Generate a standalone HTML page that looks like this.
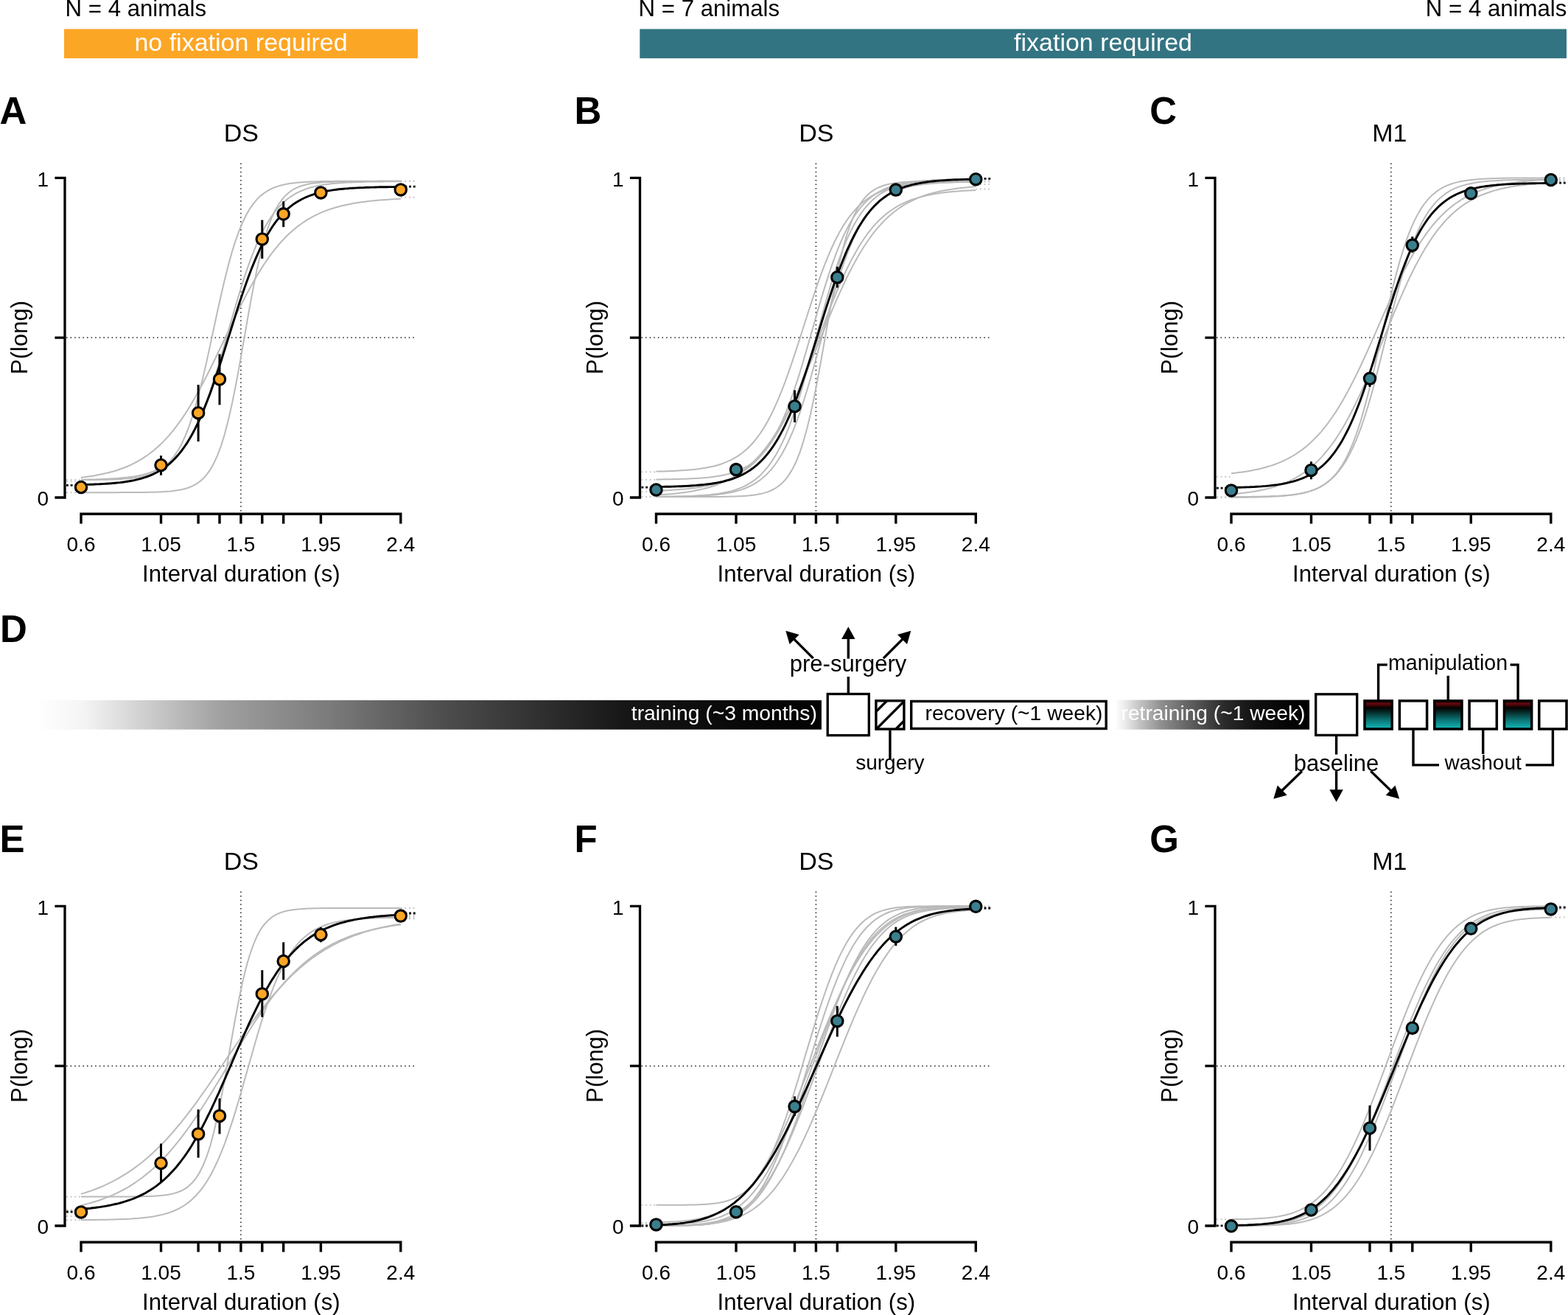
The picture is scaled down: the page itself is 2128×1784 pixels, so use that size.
<!DOCTYPE html>
<html><head><meta charset="utf-8"><title>Figure</title>
<style>html,body{margin:0;padding:0;background:#fff;}svg{display:block;}</style></head>
<body><svg width="2128" height="1784" viewBox="0 0 2128 1784" font-family="'Liberation Sans', Arial, Helvetica, sans-serif">
<rect width="2128" height="1784" fill="#fff"/>
<text x="88.6" y="22" font-size="31.2">N = 4 animals</text>
<rect x="87" y="39.4" width="480" height="39.7" fill="#FCA626"/>
<text x="327" y="68.9" font-size="34" text-anchor="middle" fill="#fff">no fixation required</text>
<text x="866.6" y="22" font-size="31.2">N = 7 animals</text>
<rect x="868.3" y="39.4" width="1257.7" height="39.7" fill="#337482"/>
<text x="1497" y="68.7" font-size="34" text-anchor="middle" fill="#fff">fixation required</text>
<text x="2126.4" y="22" font-size="31.2" text-anchor="end">N = 4 animals</text>
<path d="M326.9 221.5V693.5M90 458.1H564" stroke="#1a1a1a" stroke-width="1.5" stroke-dasharray="1.5 4.1" fill="none"/>
<path d="M74.4 241.3H88V675H74.4M74.4 458.1H88" stroke="#000" stroke-width="3.3" fill="none" stroke-linejoin="miter"/>
<path d="M110 710.6V697.3H543.8V710.6M218.5 697.3V710.6M269.1 697.3V710.6M298 697.3V710.6M355.8 697.3V710.6M384.7 697.3V710.6M435.4 697.3V710.6M326.9 697.3V710.6" stroke="#000" stroke-width="3.4" fill="none" stroke-linejoin="miter"/>
<text x="110" y="747.8" font-size="28" text-anchor="middle">0.6</text>
<text x="218.5" y="747.8" font-size="28" text-anchor="middle">1.05</text>
<text x="326.9" y="747.8" font-size="28" text-anchor="middle">1.5</text>
<text x="435.4" y="747.8" font-size="28" text-anchor="middle">1.95</text>
<text x="543.8" y="747.8" font-size="28" text-anchor="middle">2.4</text>
<text x="66" y="685.5" font-size="28" text-anchor="end">0</text>
<text x="66" y="252.6" font-size="28" text-anchor="end">1</text>
<text x="327.4" y="789.3" font-size="31.2" text-anchor="middle">Interval duration (s)</text>
<text transform="translate(37.3 458) rotate(-90)" font-size="31" text-anchor="middle">P(long)</text>
<text x="327.3" y="191.8" font-size="34" text-anchor="middle">DS</text>
<text x="-0.6" y="167.7" font-size="51" font-weight="bold">A</text>
<path d="M1107.4 221.5V693.5M870.5 458.1H1344.5" stroke="#1a1a1a" stroke-width="1.5" stroke-dasharray="1.5 4.1" fill="none"/>
<path d="M854.9 241.3H868.5V675H854.9M854.9 458.1H868.5" stroke="#000" stroke-width="3.3" fill="none" stroke-linejoin="miter"/>
<path d="M890.5 710.6V697.3H1324.3V710.6M999 697.3V710.6M1078.5 697.3V710.6M1136.3 697.3V710.6M1215.8 697.3V710.6M1107.4 697.3V710.6" stroke="#000" stroke-width="3.4" fill="none" stroke-linejoin="miter"/>
<text x="890.5" y="747.8" font-size="28" text-anchor="middle">0.6</text>
<text x="999" y="747.8" font-size="28" text-anchor="middle">1.05</text>
<text x="1107.4" y="747.8" font-size="28" text-anchor="middle">1.5</text>
<text x="1215.8" y="747.8" font-size="28" text-anchor="middle">1.95</text>
<text x="1324.3" y="747.8" font-size="28" text-anchor="middle">2.4</text>
<text x="846.5" y="685.5" font-size="28" text-anchor="end">0</text>
<text x="846.5" y="252.6" font-size="28" text-anchor="end">1</text>
<text x="1107.9" y="789.3" font-size="31.2" text-anchor="middle">Interval duration (s)</text>
<text transform="translate(817.8 458) rotate(-90)" font-size="31" text-anchor="middle">P(long)</text>
<text x="1107.8" y="191.8" font-size="34" text-anchor="middle">DS</text>
<text x="779.5" y="167.7" font-size="51" font-weight="bold">B</text>
<path d="M1887.9 221.5V693.5M1651 458.1H2125" stroke="#1a1a1a" stroke-width="1.5" stroke-dasharray="1.5 4.1" fill="none"/>
<path d="M1635.4 241.3H1649V675H1635.4M1635.4 458.1H1649" stroke="#000" stroke-width="3.3" fill="none" stroke-linejoin="miter"/>
<path d="M1671 710.6V697.3H2104.8V710.6M1779.5 697.3V710.6M1859 697.3V710.6M1916.8 697.3V710.6M1996.3 697.3V710.6M1887.9 697.3V710.6" stroke="#000" stroke-width="3.4" fill="none" stroke-linejoin="miter"/>
<text x="1671" y="747.8" font-size="28" text-anchor="middle">0.6</text>
<text x="1779.5" y="747.8" font-size="28" text-anchor="middle">1.05</text>
<text x="1887.9" y="747.8" font-size="28" text-anchor="middle">1.5</text>
<text x="1996.3" y="747.8" font-size="28" text-anchor="middle">1.95</text>
<text x="2104.8" y="747.8" font-size="28" text-anchor="middle">2.4</text>
<text x="1627" y="685.5" font-size="28" text-anchor="end">0</text>
<text x="1627" y="252.6" font-size="28" text-anchor="end">1</text>
<text x="1888.4" y="789.3" font-size="31.2" text-anchor="middle">Interval duration (s)</text>
<text transform="translate(1598.3 458) rotate(-90)" font-size="31" text-anchor="middle">P(long)</text>
<text x="1885.9" y="191.8" font-size="34" text-anchor="middle">M1</text>
<text x="1560.3" y="167.7" font-size="51" font-weight="bold">C</text>
<path d="M326.9 1209.5V1681.5M90 1446.2H564" stroke="#1a1a1a" stroke-width="1.5" stroke-dasharray="1.5 4.1" fill="none"/>
<path d="M74.4 1229.3H88V1663H74.4M74.4 1446.2H88" stroke="#000" stroke-width="3.3" fill="none" stroke-linejoin="miter"/>
<path d="M110 1698.6V1685.3H543.8V1698.6M218.5 1685.3V1698.6M269.1 1685.3V1698.6M298 1685.3V1698.6M355.8 1685.3V1698.6M384.7 1685.3V1698.6M435.4 1685.3V1698.6M326.9 1685.3V1698.6" stroke="#000" stroke-width="3.4" fill="none" stroke-linejoin="miter"/>
<text x="110" y="1735.8" font-size="28" text-anchor="middle">0.6</text>
<text x="218.5" y="1735.8" font-size="28" text-anchor="middle">1.05</text>
<text x="326.9" y="1735.8" font-size="28" text-anchor="middle">1.5</text>
<text x="435.4" y="1735.8" font-size="28" text-anchor="middle">1.95</text>
<text x="543.8" y="1735.8" font-size="28" text-anchor="middle">2.4</text>
<text x="66" y="1673.5" font-size="28" text-anchor="end">0</text>
<text x="66" y="1240.6" font-size="28" text-anchor="end">1</text>
<text x="327.4" y="1777.3" font-size="31.2" text-anchor="middle">Interval duration (s)</text>
<text transform="translate(37.3 1446) rotate(-90)" font-size="31" text-anchor="middle">P(long)</text>
<text x="327.3" y="1179.8" font-size="34" text-anchor="middle">DS</text>
<text x="-0.6" y="1155.7" font-size="51" font-weight="bold">E</text>
<path d="M1107.4 1209.5V1681.5M870.5 1446.2H1344.5" stroke="#1a1a1a" stroke-width="1.5" stroke-dasharray="1.5 4.1" fill="none"/>
<path d="M854.9 1229.3H868.5V1663H854.9M854.9 1446.2H868.5" stroke="#000" stroke-width="3.3" fill="none" stroke-linejoin="miter"/>
<path d="M890.5 1698.6V1685.3H1324.3V1698.6M999 1685.3V1698.6M1078.5 1685.3V1698.6M1136.3 1685.3V1698.6M1215.8 1685.3V1698.6M1107.4 1685.3V1698.6" stroke="#000" stroke-width="3.4" fill="none" stroke-linejoin="miter"/>
<text x="890.5" y="1735.8" font-size="28" text-anchor="middle">0.6</text>
<text x="999" y="1735.8" font-size="28" text-anchor="middle">1.05</text>
<text x="1107.4" y="1735.8" font-size="28" text-anchor="middle">1.5</text>
<text x="1215.8" y="1735.8" font-size="28" text-anchor="middle">1.95</text>
<text x="1324.3" y="1735.8" font-size="28" text-anchor="middle">2.4</text>
<text x="846.5" y="1673.5" font-size="28" text-anchor="end">0</text>
<text x="846.5" y="1240.6" font-size="28" text-anchor="end">1</text>
<text x="1107.9" y="1777.3" font-size="31.2" text-anchor="middle">Interval duration (s)</text>
<text transform="translate(817.8 1446) rotate(-90)" font-size="31" text-anchor="middle">P(long)</text>
<text x="1107.8" y="1179.8" font-size="34" text-anchor="middle">DS</text>
<text x="779.5" y="1155.7" font-size="51" font-weight="bold">F</text>
<path d="M1887.9 1209.5V1681.5M1651 1446.2H2125" stroke="#1a1a1a" stroke-width="1.5" stroke-dasharray="1.5 4.1" fill="none"/>
<path d="M1635.4 1229.3H1649V1663H1635.4M1635.4 1446.2H1649" stroke="#000" stroke-width="3.3" fill="none" stroke-linejoin="miter"/>
<path d="M1671 1698.6V1685.3H2104.8V1698.6M1779.5 1685.3V1698.6M1859 1685.3V1698.6M1916.8 1685.3V1698.6M1996.3 1685.3V1698.6M1887.9 1685.3V1698.6" stroke="#000" stroke-width="3.4" fill="none" stroke-linejoin="miter"/>
<text x="1671" y="1735.8" font-size="28" text-anchor="middle">0.6</text>
<text x="1779.5" y="1735.8" font-size="28" text-anchor="middle">1.05</text>
<text x="1887.9" y="1735.8" font-size="28" text-anchor="middle">1.5</text>
<text x="1996.3" y="1735.8" font-size="28" text-anchor="middle">1.95</text>
<text x="2104.8" y="1735.8" font-size="28" text-anchor="middle">2.4</text>
<text x="1627" y="1673.5" font-size="28" text-anchor="end">0</text>
<text x="1627" y="1240.6" font-size="28" text-anchor="end">1</text>
<text x="1888.4" y="1777.3" font-size="31.2" text-anchor="middle">Interval duration (s)</text>
<text transform="translate(1598.3 1446) rotate(-90)" font-size="31" text-anchor="middle">P(long)</text>
<text x="1885.9" y="1179.8" font-size="34" text-anchor="middle">M1</text>
<text x="1560.3" y="1155.7" font-size="51" font-weight="bold">G</text>
<text x="0" y="870.8" font-size="51" font-weight="bold">D</text>
<defs><linearGradient id="gtrain" gradientUnits="userSpaceOnUse" x1="50" y1="0" x2="1115" y2="0"><stop offset="0" stop-color="#fff"/><stop offset="0.06" stop-color="#f4f4f4"/><stop offset="0.235" stop-color="#a0a0a0"/><stop offset="0.376" stop-color="#7a7a7a"/><stop offset="0.516" stop-color="#4e4e4e"/><stop offset="0.657" stop-color="#2c2c2c"/><stop offset="0.751" stop-color="#161616"/><stop offset="0.9" stop-color="#080808"/><stop offset="1" stop-color="#030303"/></linearGradient><linearGradient id="gretrain" gradientUnits="userSpaceOnUse" x1="1513" y1="0" x2="1777" y2="0"><stop offset="0" stop-color="#fff"/><stop offset="0.05" stop-color="#ececec"/><stop offset="0.13" stop-color="#c2c2c2"/><stop offset="0.24" stop-color="#8e8e8e"/><stop offset="0.405" stop-color="#5a5a5a"/><stop offset="0.565" stop-color="#2a2a2a"/><stop offset="0.73" stop-color="#101010"/><stop offset="0.89" stop-color="#050505"/><stop offset="1" stop-color="#020202"/></linearGradient><linearGradient id="gmanip" x1="0" y1="0" x2="0" y2="1"><stop offset="0" stop-color="#2a0204"/><stop offset="0.1" stop-color="#640a10"/><stop offset="0.17" stop-color="#3c0407"/><stop offset="0.24" stop-color="#060202"/><stop offset="0.32" stop-color="#041412"/><stop offset="0.62" stop-color="#0a6666"/><stop offset="1" stop-color="#12bcbc"/></linearGradient><clipPath id="hclip"><rect x="1188.9" y="950.7" width="38" height="38.4"/></clipPath></defs>
<rect x="50" y="950" width="1064.9" height="39.7" fill="url(#gtrain)"/>
<text x="856.8" y="977" font-size="28.25" fill="#fff">training (~3 months)</text>
<rect x="1123.2" y="941.5" width="56.1" height="56.1" fill="#fff" stroke="#000" stroke-width="3.3"/>
<path d="M1151.3 918L1151.3 941.5" stroke="#000" stroke-width="3.4" fill="none"/>
<text x="1151" y="911" font-size="31" text-anchor="middle">pre-surgery</text>
<path d="M1151.3 893.6L1151.3 865" stroke="#000" stroke-width="3.4" fill="none"/>
<path d="M1151.3 850.3L1160.5 867L1142.1 867Z" fill="#000"/>
<path d="M1103.7 893.1L1076.7 866.1" stroke="#000" stroke-width="3.4" fill="none"/>
<path d="M1066.3 855.7L1084.6 861L1071.6 874Z" fill="#000"/>
<path d="M1198.9 893.1L1225.9 866.1" stroke="#000" stroke-width="3.4" fill="none"/>
<path d="M1236.3 855.7L1231 874L1218 861Z" fill="#000"/>
<g clip-path="url(#hclip)">
<path d="M1154.4 1000L1254.4 900" stroke="#000" stroke-width="3.4"/>
<path d="M1178.4 1000L1278.4 900" stroke="#000" stroke-width="3.4"/>
<path d="M1204.9 1000L1304.9 900" stroke="#000" stroke-width="3.4"/>
</g>
<rect x="1188.9" y="950.7" width="38" height="38.4" fill="none" stroke="#000" stroke-width="3.4"/>
<path d="M1207.9 990.8L1207.9 1030.9" stroke="#000" stroke-width="3.4" fill="none"/>
<text x="1207.9" y="1044.1" font-size="28" text-anchor="middle">surgery</text>
<rect x="1236.7" y="951.4" width="264.5" height="37.1" fill="#fff" stroke="#000" stroke-width="3.4"/>
<text x="1255.5" y="976.7" font-size="28.25">recovery (~1 week)</text>
<rect x="1513" y="949.6" width="264.1" height="40.1" fill="url(#gretrain)"/>
<text x="1521.5" y="976.5" font-size="28.2" fill="#fff">retraining (~1 week)</text>
<rect x="1785.7" y="941.8" width="56" height="55.6" fill="#fff" stroke="#000" stroke-width="3.3"/>
<path d="M1813.6 999L1813.6 1023.6" stroke="#000" stroke-width="3.4" fill="none"/>
<text x="1813.6" y="1045.9" font-size="31" text-anchor="middle">baseline</text>
<path d="M1813.6 1046.1L1813.6 1073.3" stroke="#000" stroke-width="3.4" fill="none"/>
<path d="M1813.6 1088L1804.4 1071.3L1822.8 1071.3Z" fill="#000"/>
<path d="M1767 1046.1L1738.8 1073.5" stroke="#000" stroke-width="3.4" fill="none"/>
<path d="M1728.3 1083.8L1733.8 1065.6L1746.7 1078.7Z" fill="#000"/>
<path d="M1860.3 1046.1L1888.6 1073.6" stroke="#000" stroke-width="3.4" fill="none"/>
<path d="M1899.1 1083.8L1880.7 1078.8L1893.5 1065.6Z" fill="#000"/>
<rect x="1852" y="950.8" width="37.2" height="38.2" fill="url(#gmanip)" stroke="#000" stroke-width="3.5"/>
<rect x="1899.4" y="950.8" width="37.2" height="38.2" fill="#fff" stroke="#000" stroke-width="3.5"/>
<rect x="1946.8" y="950.8" width="37.2" height="38.2" fill="url(#gmanip)" stroke="#000" stroke-width="3.5"/>
<rect x="1994.1" y="950.8" width="37.2" height="38.2" fill="#fff" stroke="#000" stroke-width="3.5"/>
<rect x="2041.5" y="950.8" width="37.2" height="38.2" fill="url(#gmanip)" stroke="#000" stroke-width="3.5"/>
<rect x="2088.8" y="950.8" width="37.2" height="38.2" fill="#fff" stroke="#000" stroke-width="3.5"/>
<path d="M1870.6 950V901.9H1882.8M2049.6 901.9H2060.1V950M1965.3 916.8V950" stroke="#000" stroke-width="3.4" fill="none"/>
<text x="1965" y="909.3" font-size="28.6" text-anchor="middle">manipulation</text>
<path d="M1918 989V1037.9H1953M2070.6 1037.9H2107.4V989M2012.7 989V1023" stroke="#000" stroke-width="3.4" fill="none"/>
<text x="2012.6" y="1043.9" font-size="28" text-anchor="middle">washout</text>
<path d="M110 668.2L114.9 668.2L119.7 668.2L124.6 668.2L129.5 668.2L134.4 668.2L139.2 668.2L144.1 668.2L149 668.2L153.9 668.2L158.7 668.2L163.6 668.1L168.5 668.1L173.4 668.1L178.2 668.1L183.1 668.1L188 668L192.9 668L197.7 667.9L202.6 667.8L207.5 667.7L212.4 667.6L217.2 667.4L222.1 667.1L227 666.8L231.9 666.4L236.7 665.8L241.6 665.1L246.5 664.2L251.4 663L256.2 661.5L261.1 659.4L266 656.8L270.8 653.5L275.7 649.2L280.6 643.8L285.5 636.9L290.3 628.3L295.2 617.6L300.1 604.5L305 588.7L309.8 570.1L314.7 548.6L319.6 524.6L324.5 498.4L329.3 470.8L334.2 442.8L339.1 415.3L344 389.1L348.8 365.1L353.7 343.7L358.6 325.2L363.5 309.5L368.3 296.4L373.2 285.8L378.1 277.2L383 270.3L387.8 264.9L392.7 260.7L397.6 257.3L402.4 254.8L407.3 252.8L412.2 251.2L417.1 250L421.9 249.1L426.8 248.4L431.7 247.9L436.6 247.4L441.4 247.1L446.3 246.9L451.2 246.7L456.1 246.5L460.9 246.4L465.8 246.3L470.7 246.3L475.6 246.2L480.4 246.2L485.3 246.2L490.2 246.1L495.1 246.1L499.9 246.1L504.8 246.1L509.7 246.1L514.6 246.1L519.4 246.1L524.3 246.1L529.2 246.1L534.1 246.1L538.9 246.1L543.8 246.1" stroke="#bababa" stroke-width="2" fill="none"/>
<path d="M110 651L114.9 651L119.7 651L124.6 650.9L129.5 650.9L134.4 650.8L139.2 650.8L144.1 650.7L149 650.5L153.9 650.4L158.7 650.2L163.6 649.9L168.5 649.6L173.4 649.2L178.2 648.8L183.1 648.2L188 647.4L192.9 646.5L197.7 645.3L202.6 643.9L207.5 642.1L212.4 639.9L217.2 637.2L222.1 633.8L227 629.7L231.9 624.6L236.7 618.5L241.6 611.1L246.5 602.2L251.4 591.7L256.2 579.3L261.1 565.1L266 548.9L270.8 530.7L275.7 510.9L280.6 489.6L285.5 467.4L290.3 444.7L295.2 422L300.1 400L305 379.2L309.8 359.9L314.7 342.4L319.6 326.8L324.5 313.2L329.3 301.5L334.2 291.5L339.1 283.1L344 276.2L348.8 270.4L353.7 265.6L358.6 261.8L363.5 258.6L368.3 256.1L373.2 254L378.1 252.4L383 251L387.8 250L392.7 249.1L397.6 248.4L402.4 247.8L407.3 247.4L412.2 247.1L417.1 246.8L421.9 246.5L426.8 246.4L431.7 246.2L436.6 246.1L441.4 246L446.3 245.9L451.2 245.9L456.1 245.8L460.9 245.8L465.8 245.8L470.7 245.7L475.6 245.7L480.4 245.7L485.3 245.7L490.2 245.7L495.1 245.7L499.9 245.7L504.8 245.7L509.7 245.7L514.6 245.6L519.4 245.6L524.3 245.6L529.2 245.6L534.1 245.6L538.9 245.6L543.8 245.6" stroke="#bababa" stroke-width="2" fill="none"/>
<path d="M110 647.9L114.9 647.3L119.7 646.6L124.6 645.9L129.5 645.1L134.4 644.1L139.2 643.1L144.1 642L149 640.8L153.9 639.5L158.7 638L163.6 636.3L168.5 634.5L173.4 632.5L178.2 630.3L183.1 627.9L188 625.2L192.9 622.3L197.7 619.2L202.6 615.7L207.5 611.9L212.4 607.8L217.2 603.4L222.1 598.6L227 593.4L231.9 587.8L236.7 581.8L241.6 575.4L246.5 568.6L251.4 561.3L256.2 553.7L261.1 545.6L266 537.1L270.8 528.3L275.7 519.2L280.6 509.7L285.5 500L290.3 490.1L295.2 480L300.1 469.8L305 459.5L309.8 449.3L314.7 439.1L319.6 429L324.5 419.1L329.3 409.5L334.2 400.1L339.1 391L344 382.2L348.8 373.9L353.7 365.9L358.6 358.3L363.5 351.1L368.3 344.4L373.2 338.1L378.1 332.1L383 326.6L387.8 321.5L392.7 316.8L397.6 312.4L402.4 308.4L407.3 304.7L412.2 301.3L417.1 298.1L421.9 295.3L426.8 292.7L431.7 290.3L436.6 288.2L441.4 286.2L446.3 284.4L451.2 282.8L456.1 281.3L460.9 280L465.8 278.8L470.7 277.7L475.6 276.7L480.4 275.8L485.3 275L490.2 274.3L495.1 273.7L499.9 273.1L504.8 272.6L509.7 272.1L514.6 271.6L519.4 271.3L524.3 270.9L529.2 270.6L534.1 270.3L538.9 270L543.8 269.8" stroke="#bababa" stroke-width="2" fill="none"/>
<path d="M110 650.7L114.9 650.7L119.7 650.6L124.6 650.5L129.5 650.4L134.4 650.2L139.2 650L144.1 649.8L149 649.6L153.9 649.3L158.7 649L163.6 648.6L168.5 648.1L173.4 647.6L178.2 646.9L183.1 646.2L188 645.3L192.9 644.2L197.7 643L202.6 641.5L207.5 639.8L212.4 637.8L217.2 635.4L222.1 632.7L227 629.4L231.9 625.7L236.7 621.4L241.6 616.4L246.5 610.7L251.4 604.1L256.2 596.6L261.1 588.1L266 578.7L270.8 568.1L275.7 556.4L280.6 543.6L285.5 529.8L290.3 515L295.2 499.4L300.1 483.1L305 466.3L309.8 449.3L314.7 432.2L319.6 415.4L324.5 399.1L329.3 383.4L334.2 368.5L339.1 354.6L344 341.8L348.8 330L353.7 319.3L358.6 309.8L363.5 301.2L368.3 293.7L373.2 287L378.1 281.2L383 276.2L387.8 271.8L392.7 268L397.6 264.8L402.4 262L407.3 259.6L412.2 257.6L417.1 255.8L421.9 254.3L426.8 253.1L431.7 252L436.6 251.1L441.4 250.3L446.3 249.7L451.2 249.1L456.1 248.7L460.9 248.3L465.8 247.9L470.7 247.6L475.6 247.4L480.4 247.2L485.3 247L490.2 246.9L495.1 246.7L499.9 246.6L504.8 246.6L509.7 246.5L514.6 246.4L519.4 246.4L524.3 246.3L529.2 246.3L534.1 246.2L538.9 246.2L543.8 246.2" stroke="#bababa" stroke-width="2" fill="none"/>
<path d="M90 668.2H110M543.8 246.1H564M90 651.1H110M543.8 245.6H564M90 653.3H110M543.8 267.8H564M90 651.1H110M543.8 246.1H564" stroke="#c8c8c8" stroke-width="2" stroke-dasharray="2 3.6" fill="none"/>
<path d="M90 658.3H110M543.8 253.2H564" stroke="#000" stroke-width="2.8" stroke-dasharray="2.8 2.9" fill="none"/>
<path d="M110 657.6L113.1 657.5L116.2 657.5L119.4 657.4L122.5 657.3L125.6 657.2L128.7 657L131.8 656.9L135 656.8L138.1 656.6L141.2 656.4L144.3 656.2L147.5 656L150.6 655.8L153.7 655.5L156.8 655.2L159.9 654.9L163.1 654.6L166.2 654.2L169.3 653.8L172.4 653.3L175.5 652.8L178.7 652.2L181.8 651.6L184.9 650.9L188 650.2L191.1 649.3L194.3 648.4L197.4 647.4L200.5 646.3L203.6 645.1L206.7 643.8L209.9 642.3L213 640.8L216.1 639L219.2 637.1L222.4 635.1L225.5 632.8L228.6 630.3L231.7 627.6L234.8 624.7L238 621.5L241.1 618.1L244.2 614.4L247.3 610.4L250.4 606L253.6 601.4L256.7 596.3L259.8 591L262.9 585.3L266 579.1L269.2 572.7L272.3 565.8L275.4 558.6L278.5 550.9L281.6 543L284.8 534.7L287.9 526L291 517.1L294.1 507.8L297.3 498.4L300.4 488.7L303.5 478.9L306.6 469L309.7 459L312.9 449L316 439L319.1 429.1L322.2 419.4L325.3 409.8L328.5 400.4L331.6 391.3L334.7 382.4L337.8 373.9L340.9 365.7L344.1 357.9L347.2 350.4L350.3 343.3L353.4 336.5L356.5 330.2L359.7 324.2L362.8 318.6L365.9 313.4L369 308.5L372.2 303.9L375.3 299.7L378.4 295.8L381.5 292.2L384.6 288.8L387.8 285.8L390.9 282.9L394 280.3L397.1 277.9L400.2 275.7L403.4 273.7L406.5 271.9L409.6 270.2L412.7 268.7L415.8 267.3L419 266L422.1 264.8L425.2 263.8L428.3 262.8L431.4 261.9L434.6 261.1L437.7 260.4L440.8 259.7L443.9 259.1L447.1 258.6L450.2 258.1L453.3 257.6L456.4 257.2L459.5 256.8L462.7 256.5L465.8 256.2L468.9 255.9L472 255.7L475.1 255.4L478.3 255.2L481.4 255.1L484.5 254.9L487.6 254.7L490.7 254.6L493.9 254.5L497 254.3L500.1 254.2L503.2 254.1L506.3 254.1L509.5 254L512.6 253.9L515.7 253.8L518.8 253.8L522 253.7L525.1 253.7L528.2 253.6L531.3 253.6L534.4 253.6L537.6 253.5L540.7 253.5L543.8 253.5" stroke="#000" stroke-width="2.9" fill="none"/>
<path d="M218.5 618.1V644.7" stroke="#000" stroke-width="3" fill="none"/>
<path d="M269.1 522V599" stroke="#000" stroke-width="3" fill="none"/>
<path d="M298 480.4V549.3" stroke="#000" stroke-width="3" fill="none"/>
<path d="M355.8 298.5V350.9" stroke="#000" stroke-width="3" fill="none"/>
<path d="M384.7 273.2V308" stroke="#000" stroke-width="3" fill="none"/>
<circle cx="110" cy="661" r="7.7" fill="#FCA626" stroke="#000" stroke-width="3.1"/>
<circle cx="218.5" cy="631" r="7.7" fill="#FCA626" stroke="#000" stroke-width="3.1"/>
<circle cx="269.1" cy="560.2" r="7.7" fill="#FCA626" stroke="#000" stroke-width="3.1"/>
<circle cx="298" cy="514.5" r="7.7" fill="#FCA626" stroke="#000" stroke-width="3.1"/>
<circle cx="355.8" cy="324.4" r="7.7" fill="#FCA626" stroke="#000" stroke-width="3.1"/>
<circle cx="384.7" cy="290.3" r="7.7" fill="#FCA626" stroke="#000" stroke-width="3.1"/>
<circle cx="435.4" cy="261.4" r="7.7" fill="#FCA626" stroke="#000" stroke-width="3.1"/>
<circle cx="543.8" cy="257.4" r="7.7" fill="#FCA626" stroke="#000" stroke-width="3.1"/>
<path d="M890.5 639.6L895.4 639.5L900.2 639.4L905.1 639.2L910 639.1L914.9 638.9L919.7 638.6L924.6 638.3L929.5 638L934.4 637.6L939.2 637.2L944.1 636.7L949 636.1L953.9 635.3L958.7 634.5L963.6 633.6L968.5 632.5L973.4 631.2L978.2 629.7L983.1 627.9L988 625.9L992.9 623.6L997.7 620.9L1002.6 617.9L1007.5 614.3L1012.4 610.3L1017.2 605.7L1022.1 600.5L1027 594.5L1031.9 587.8L1036.7 580.4L1041.6 572L1046.5 562.8L1051.3 552.6L1056.2 541.6L1061.1 529.6L1066 516.9L1070.8 503.3L1075.7 489.1L1080.6 474.4L1085.5 459.3L1090.3 444L1095.2 428.7L1100.1 413.6L1105 398.8L1109.8 384.6L1114.7 371L1119.6 358.1L1124.5 346.1L1129.3 335L1134.2 324.8L1139.1 315.5L1144 307.1L1148.8 299.5L1153.7 292.8L1158.6 286.8L1163.5 281.5L1168.3 276.8L1173.2 272.8L1178.1 269.2L1182.9 266.1L1187.8 263.4L1192.7 261L1197.6 259L1202.4 257.3L1207.3 255.8L1212.2 254.4L1217.1 253.3L1221.9 252.4L1226.8 251.5L1231.7 250.8L1236.6 250.2L1241.4 249.7L1246.3 249.2L1251.2 248.8L1256.1 248.5L1260.9 248.2L1265.8 248L1270.7 247.8L1275.6 247.6L1280.4 247.4L1285.3 247.3L1290.2 247.2L1295.1 247.1L1299.9 247L1304.8 246.9L1309.7 246.9L1314.6 246.8L1319.4 246.8L1324.3 246.7" stroke="#bababa" stroke-width="2" fill="none"/>
<path d="M890.5 650.4L895.4 650.4L900.2 650.3L905.1 650.3L910 650.2L914.9 650.1L919.7 650L924.6 649.8L929.5 649.7L934.4 649.5L939.2 649.3L944.1 649L949 648.7L953.9 648.3L958.7 647.9L963.6 647.4L968.5 646.8L973.4 646.1L978.2 645.3L983.1 644.3L988 643.1L992.9 641.7L997.7 640.1L1002.6 638.3L1007.5 636L1012.4 633.5L1017.2 630.5L1022.1 627L1027 622.9L1031.9 618.2L1036.7 612.8L1041.6 606.6L1046.5 599.5L1051.3 591.5L1056.2 582.4L1061.1 572.3L1066 561L1070.8 548.7L1075.7 535.3L1080.6 520.8L1085.5 505.5L1090.3 489.4L1095.2 472.7L1100.1 455.6L1105 438.5L1109.8 421.4L1114.7 404.7L1119.6 388.6L1124.5 373.2L1129.3 358.8L1134.2 345.3L1139.1 333L1144 321.7L1148.8 311.6L1153.7 302.5L1158.6 294.4L1163.5 287.3L1168.3 281.1L1173.2 275.7L1178.1 270.9L1182.9 266.9L1187.8 263.4L1192.7 260.3L1197.6 257.8L1202.4 255.5L1207.3 253.7L1212.2 252L1217.1 250.7L1221.9 249.5L1226.8 248.5L1231.7 247.7L1236.6 247L1241.4 246.4L1246.3 245.8L1251.2 245.4L1256.1 245L1260.9 244.7L1265.8 244.5L1270.7 244.2L1275.6 244.1L1280.4 243.9L1285.3 243.8L1290.2 243.7L1295.1 243.6L1299.9 243.5L1304.8 243.4L1309.7 243.4L1314.6 243.3L1319.4 243.3L1324.3 243.2" stroke="#bababa" stroke-width="2" fill="none"/>
<path d="M890.5 665.8L895.4 665.6L900.2 665.4L905.1 665.2L910 664.9L914.9 664.6L919.7 664.2L924.6 663.8L929.5 663.4L934.4 662.9L939.2 662.3L944.1 661.7L949 660.9L953.9 660.1L958.7 659.2L963.6 658.1L968.5 656.9L973.4 655.6L978.2 654.1L983.1 652.4L988 650.5L992.9 648.3L997.7 645.9L1002.6 643.2L1007.5 640.2L1012.4 636.8L1017.2 633.1L1022.1 628.9L1027 624.3L1031.9 619.2L1036.7 613.5L1041.6 607.4L1046.5 600.6L1051.3 593.3L1056.2 585.3L1061.1 576.7L1066 567.4L1070.8 557.6L1075.7 547.1L1080.6 536.1L1085.5 524.6L1090.3 512.6L1095.2 500.2L1100.1 487.6L1105 474.7L1109.8 461.8L1114.7 448.8L1119.6 435.9L1124.5 423.3L1129.3 410.9L1134.2 399L1139.1 387.4L1144 376.4L1148.8 366L1153.7 356.1L1158.6 346.9L1163.5 338.3L1168.3 330.3L1173.2 323L1178.1 316.2L1182.9 310.1L1187.8 304.4L1192.7 299.3L1197.6 294.7L1202.4 290.6L1207.3 286.8L1212.2 283.5L1217.1 280.4L1221.9 277.7L1226.8 275.3L1231.7 273.2L1236.6 271.3L1241.4 269.6L1246.3 268.1L1251.2 266.7L1256.1 265.5L1260.9 264.5L1265.8 263.5L1270.7 262.7L1275.6 262L1280.4 261.3L1285.3 260.8L1290.2 260.3L1295.1 259.8L1299.9 259.4L1304.8 259.1L1309.7 258.8L1314.6 258.5L1319.4 258.3L1324.3 258.1" stroke="#bababa" stroke-width="2" fill="none"/>
<path d="M890.5 673.9L895.4 673.9L900.2 673.9L905.1 673.8L910 673.8L914.9 673.7L919.7 673.6L924.6 673.5L929.5 673.4L934.4 673.3L939.2 673.1L944.1 673L949 672.7L953.9 672.5L958.7 672.2L963.6 671.8L968.5 671.4L973.4 670.9L978.2 670.3L983.1 669.7L988 668.8L992.9 667.9L997.7 666.8L1002.6 665.4L1007.5 663.9L1012.4 662L1017.2 659.9L1022.1 657.4L1027 654.4L1031.9 651L1036.7 647L1041.6 642.4L1046.5 637.1L1051.3 631L1056.2 624L1061.1 616.1L1066 607.1L1070.8 597L1075.7 585.8L1080.6 573.4L1085.5 559.8L1090.3 545.2L1095.2 529.5L1100.1 513L1105 495.7L1109.8 478L1114.7 460L1119.6 442L1124.5 424.3L1129.3 407.1L1134.2 390.6L1139.1 375L1144 360.3L1148.8 346.8L1153.7 334.5L1158.6 323.3L1163.5 313.2L1168.3 304.3L1173.2 296.4L1178.1 289.4L1182.9 283.3L1187.8 278L1192.7 273.4L1197.6 269.5L1202.4 266.1L1207.3 263.2L1212.2 260.7L1217.1 258.5L1221.9 256.7L1226.8 255.2L1231.7 253.8L1236.6 252.7L1241.4 251.8L1246.3 251L1251.2 250.3L1256.1 249.7L1260.9 249.2L1265.8 248.8L1270.7 248.4L1275.6 248.1L1280.4 247.9L1285.3 247.7L1290.2 247.5L1295.1 247.3L1299.9 247.2L1304.8 247.1L1309.7 247L1314.6 246.9L1319.4 246.9L1324.3 246.8" stroke="#bababa" stroke-width="2" fill="none"/>
<path d="M890.5 673.9L895.4 673.9L900.2 673.8L905.1 673.7L910 673.7L914.9 673.6L919.7 673.5L924.6 673.4L929.5 673.2L934.4 673L939.2 672.9L944.1 672.6L949 672.3L953.9 672L958.7 671.6L963.6 671.2L968.5 670.6L973.4 670L978.2 669.2L983.1 668.3L988 667.3L992.9 666.1L997.7 664.6L1002.6 662.9L1007.5 660.9L1012.4 658.6L1017.2 655.9L1022.1 652.7L1027 649L1031.9 644.7L1036.7 639.7L1041.6 634L1046.5 627.4L1051.3 619.9L1056.2 611.4L1061.1 601.8L1066 591.1L1070.8 579.2L1075.7 566.1L1080.6 551.9L1085.5 536.6L1090.3 520.4L1095.2 503.3L1100.1 485.7L1105 467.7L1109.8 449.5L1114.7 431.5L1119.6 413.8L1124.5 396.8L1129.3 380.5L1134.2 365.3L1139.1 351.1L1144 338L1148.8 326.1L1153.7 315.4L1158.6 305.8L1163.5 297.3L1168.3 289.8L1173.2 283.2L1178.1 277.5L1182.9 272.5L1187.8 268.2L1192.7 264.5L1197.6 261.3L1202.4 258.6L1207.3 256.2L1212.2 254.2L1217.1 252.5L1221.9 251.1L1226.8 249.9L1231.7 248.8L1236.6 247.9L1241.4 247.2L1246.3 246.5L1251.2 246L1256.1 245.5L1260.9 245.2L1265.8 244.8L1270.7 244.6L1275.6 244.3L1280.4 244.1L1285.3 244L1290.2 243.8L1295.1 243.7L1299.9 243.6L1304.8 243.5L1309.7 243.4L1314.6 243.4L1319.4 243.3L1324.3 243.3" stroke="#bababa" stroke-width="2" fill="none"/>
<path d="M890.5 674.1L895.4 674.1L900.2 674.1L905.1 674.1L910 674.1L914.9 674.1L919.7 674.1L924.6 674.1L929.5 674.1L934.4 674.1L939.2 674.1L944.1 674.1L949 674.1L953.9 674.1L958.7 674L963.6 674L968.5 674L973.4 674L978.2 673.9L983.1 673.8L988 673.7L992.9 673.6L997.7 673.5L1002.6 673.3L1007.5 673L1012.4 672.7L1017.2 672.3L1022.1 671.7L1027 671L1031.9 670.1L1036.7 668.9L1041.6 667.4L1046.5 665.5L1051.3 663L1056.2 659.8L1061.1 655.7L1066 650.6L1070.8 644.1L1075.7 636L1080.6 626L1085.5 613.8L1090.3 599L1095.2 581.6L1100.1 561.4L1105 538.6L1109.8 513.5L1114.7 486.7L1119.6 459.1L1124.5 431.5L1129.3 404.8L1134.2 379.9L1139.1 357.2L1144 337.1L1148.8 319.9L1153.7 305.3L1158.6 293.2L1163.5 283.3L1168.3 275.3L1173.2 268.9L1178.1 263.8L1182.9 259.8L1187.8 256.6L1192.7 254.2L1197.6 252.2L1202.4 250.8L1207.3 249.6L1212.2 248.7L1217.1 248L1221.9 247.5L1226.8 247L1231.7 246.7L1236.6 246.5L1241.4 246.3L1246.3 246.1L1251.2 246L1256.1 245.9L1260.9 245.9L1265.8 245.8L1270.7 245.8L1275.6 245.7L1280.4 245.7L1285.3 245.7L1290.2 245.7L1295.1 245.7L1299.9 245.7L1304.8 245.7L1309.7 245.7L1314.6 245.7L1319.4 245.6L1324.3 245.6" stroke="#bababa" stroke-width="2" fill="none"/>
<path d="M890.5 671.6L895.4 671.3L900.2 671L905.1 670.6L910 670.2L914.9 669.7L919.7 669.2L924.6 668.6L929.5 667.9L934.4 667.2L939.2 666.4L944.1 665.5L949 664.5L953.9 663.4L958.7 662.2L963.6 660.8L968.5 659.2L973.4 657.5L978.2 655.6L983.1 653.6L988 651.2L992.9 648.7L997.7 645.9L1002.6 642.7L1007.5 639.3L1012.4 635.6L1017.2 631.4L1022.1 626.9L1027 622L1031.9 616.6L1036.7 610.8L1041.6 604.5L1046.5 597.7L1051.3 590.4L1056.2 582.6L1061.1 574.3L1066 565.5L1070.8 556.2L1075.7 546.4L1080.6 536.1L1085.5 525.5L1090.3 514.4L1095.2 503.1L1100.1 491.5L1105 479.8L1109.8 467.9L1114.7 456L1119.6 444.1L1124.5 432.3L1129.3 420.8L1134.2 409.4L1139.1 398.4L1144 387.8L1148.8 377.5L1153.7 367.7L1158.6 358.4L1163.5 349.6L1168.3 341.3L1173.2 333.5L1178.1 326.2L1182.9 319.4L1187.8 313.2L1192.7 307.3L1197.6 302L1202.4 297.1L1207.3 292.6L1212.2 288.5L1217.1 284.7L1221.9 281.3L1226.8 278.2L1231.7 275.4L1236.6 272.8L1241.4 270.5L1246.3 268.4L1251.2 266.5L1256.1 264.8L1260.9 263.3L1265.8 261.9L1270.7 260.7L1275.6 259.6L1280.4 258.6L1285.3 257.7L1290.2 256.9L1295.1 256.2L1299.9 255.5L1304.8 254.9L1309.7 254.4L1314.6 253.9L1319.4 253.5L1324.3 253.1" stroke="#bababa" stroke-width="2" fill="none"/>
<path d="M870.5 640.3H890.5M1324.3 246.5H1344.5M870.5 650.7H890.5M1324.3 243H1344.5M870.5 667.2H890.5M1324.3 256.5H1344.5M870.5 674.1H890.5M1324.3 246.5H1344.5M870.5 674.1H890.5M1324.3 243H1344.5M870.5 674.1H890.5M1324.3 245.6H1344.5M870.5 674.1H890.5M1324.3 250H1344.5" stroke="#c8c8c8" stroke-width="2" stroke-dasharray="2 3.6" fill="none"/>
<path d="M870.5 661.1H890.5M1324.3 242.4H1344.5" stroke="#000" stroke-width="2.8" stroke-dasharray="2.8 2.9" fill="none"/>
<path d="M890.5 660.6L893.6 660.5L896.7 660.5L899.9 660.4L903 660.3L906.1 660.3L909.2 660.2L912.3 660.1L915.5 660L918.6 659.9L921.7 659.8L924.8 659.7L928 659.5L931.1 659.4L934.2 659.2L937.3 659L940.4 658.8L943.6 658.6L946.7 658.3L949.8 658L952.9 657.7L956 657.4L959.2 657L962.3 656.6L965.4 656.2L968.5 655.7L971.6 655.2L974.8 654.6L977.9 654L981 653.3L984.1 652.5L987.2 651.7L990.4 650.8L993.5 649.8L996.6 648.7L999.7 647.5L1002.9 646.1L1006 644.7L1009.1 643.1L1012.2 641.4L1015.3 639.6L1018.5 637.5L1021.6 635.3L1024.7 632.9L1027.8 630.3L1030.9 627.4L1034.1 624.3L1037.2 621L1040.3 617.4L1043.4 613.5L1046.5 609.4L1049.7 604.9L1052.8 600.1L1055.9 594.9L1059 589.4L1062.1 583.6L1065.3 577.3L1068.4 570.7L1071.5 563.8L1074.6 556.5L1077.8 548.8L1080.9 540.8L1084 532.4L1087.1 523.7L1090.2 514.8L1093.4 505.6L1096.5 496.1L1099.6 486.5L1102.7 476.7L1105.8 466.8L1109 456.8L1112.1 446.8L1115.2 436.8L1118.3 426.9L1121.4 417.1L1124.6 407.4L1127.7 398L1130.8 388.8L1133.9 379.8L1137 371.1L1140.2 362.8L1143.3 354.7L1146.4 347.1L1149.5 339.7L1152.7 332.8L1155.8 326.2L1158.9 320L1162 314.1L1165.1 308.6L1168.3 303.4L1171.4 298.6L1174.5 294.1L1177.6 290L1180.7 286.1L1183.9 282.5L1187 279.1L1190.1 276.1L1193.2 273.2L1196.3 270.6L1199.5 268.2L1202.6 266L1205.7 263.9L1208.8 262.1L1211.9 260.3L1215.1 258.8L1218.2 257.3L1221.3 256L1224.4 254.8L1227.6 253.7L1230.7 252.7L1233.8 251.8L1236.9 250.9L1240 250.2L1243.2 249.5L1246.3 248.8L1249.4 248.3L1252.5 247.7L1255.6 247.3L1258.8 246.8L1261.9 246.4L1265 246L1268.1 245.7L1271.2 245.4L1274.4 245.1L1277.5 244.9L1280.6 244.7L1283.7 244.5L1286.8 244.3L1290 244.1L1293.1 243.9L1296.2 243.8L1299.3 243.7L1302.5 243.6L1305.6 243.5L1308.7 243.4L1311.8 243.3L1314.9 243.2L1318.1 243.1L1321.2 243L1324.3 243" stroke="#000" stroke-width="2.9" fill="none"/>
<path d="M1078.5 529.4V573" stroke="#000" stroke-width="3" fill="none"/>
<path d="M1136.3 361.8V390.4" stroke="#000" stroke-width="3" fill="none"/>
<circle cx="890.5" cy="664.5" r="7.7" fill="#3a7f8d" stroke="#000" stroke-width="3.1"/>
<circle cx="999" cy="637.1" r="7.7" fill="#3a7f8d" stroke="#000" stroke-width="3.1"/>
<circle cx="1078.5" cy="551.2" r="7.7" fill="#3a7f8d" stroke="#000" stroke-width="3.1"/>
<circle cx="1136.3" cy="376.2" r="7.7" fill="#3a7f8d" stroke="#000" stroke-width="3.1"/>
<circle cx="1215.8" cy="257.6" r="7.7" fill="#3a7f8d" stroke="#000" stroke-width="3.1"/>
<circle cx="1324.3" cy="243.2" r="7.7" fill="#3a7f8d" stroke="#000" stroke-width="3.1"/>
<path d="M1671 642.2L1675.9 641.7L1680.7 641.1L1685.6 640.4L1690.5 639.7L1695.4 638.9L1700.2 638L1705.1 637L1710 635.9L1714.9 634.7L1719.7 633.3L1724.6 631.9L1729.5 630.2L1734.4 628.4L1739.2 626.3L1744.1 624.1L1749 621.6L1753.9 618.9L1758.7 616L1763.6 612.7L1768.5 609.1L1773.4 605.2L1778.2 601L1783.1 596.3L1788 591.3L1792.9 585.8L1797.7 580L1802.6 573.6L1807.5 566.8L1812.4 559.6L1817.2 551.9L1822.1 543.7L1827 535.1L1831.8 526L1836.7 516.5L1841.6 506.7L1846.5 496.5L1851.3 486L1856.2 475.3L1861.1 464.4L1866 453.4L1870.8 442.3L1875.7 431.2L1880.6 420.2L1885.5 409.4L1890.3 398.7L1895.2 388.3L1900.1 378.3L1905 368.5L1909.8 359.2L1914.7 350.3L1919.6 341.8L1924.5 333.7L1929.3 326.2L1934.2 319.1L1939.1 312.4L1944 306.2L1948.8 300.5L1953.7 295.2L1958.6 290.3L1963.4 285.8L1968.3 281.6L1973.2 277.8L1978.1 274.3L1982.9 271.2L1987.8 268.3L1992.7 265.7L1997.6 263.3L2002.4 261.1L2007.3 259.1L2012.2 257.4L2017.1 255.8L2021.9 254.3L2026.8 253L2031.7 251.8L2036.6 250.8L2041.4 249.8L2046.3 248.9L2051.2 248.2L2056.1 247.5L2060.9 246.8L2065.8 246.3L2070.7 245.8L2075.6 245.3L2080.4 244.9L2085.3 244.5L2090.2 244.2L2095.1 243.9L2099.9 243.6L2104.8 243.4" stroke="#bababa" stroke-width="2" fill="none"/>
<path d="M1671 674L1675.9 674L1680.7 674L1685.6 674L1690.5 673.9L1695.4 673.9L1700.2 673.8L1705.1 673.8L1710 673.7L1714.9 673.6L1719.7 673.4L1724.6 673.3L1729.5 673.1L1734.4 672.9L1739.2 672.6L1744.1 672.2L1749 671.8L1753.9 671.3L1758.7 670.6L1763.6 669.9L1768.5 668.9L1773.4 667.8L1778.2 666.4L1783.1 664.6L1788 662.6L1792.9 660.1L1797.7 657L1802.6 653.4L1807.5 649L1812.4 643.8L1817.2 637.6L1822.1 630.2L1827 621.5L1831.8 611.5L1836.7 599.8L1841.6 586.5L1846.5 571.5L1851.3 554.9L1856.2 536.6L1861.1 517L1866 496.3L1870.8 474.8L1875.7 452.9L1880.6 431.2L1885.5 409.9L1890.3 389.6L1895.2 370.6L1900.1 353L1905 337.1L1909.8 322.9L1914.7 310.3L1919.6 299.4L1924.5 289.9L1929.3 281.9L1934.2 275L1939.1 269.2L1944 264.4L1948.8 260.4L1953.7 257L1958.6 254.2L1963.4 251.9L1968.3 250L1973.2 248.4L1978.1 247.1L1982.9 246.1L1987.8 245.2L1992.7 244.5L1997.6 243.9L2002.4 243.4L2007.3 243.1L2012.2 242.7L2017.1 242.5L2021.9 242.3L2026.8 242.1L2031.7 241.9L2036.6 241.8L2041.4 241.7L2046.3 241.6L2051.2 241.6L2056.1 241.5L2060.9 241.5L2065.8 241.5L2070.7 241.4L2075.6 241.4L2080.4 241.4L2085.3 241.4L2090.2 241.4L2095.1 241.3L2099.9 241.3L2104.8 241.3" stroke="#bababa" stroke-width="2" fill="none"/>
<path d="M1671 670.5L1675.9 670.1L1680.7 669.6L1685.6 669.1L1690.5 668.5L1695.4 667.8L1700.2 667.1L1705.1 666.2L1710 665.3L1714.9 664.3L1719.7 663.1L1724.6 661.9L1729.5 660.5L1734.4 658.9L1739.2 657.2L1744.1 655.2L1749 653.1L1753.9 650.7L1758.7 648.1L1763.6 645.2L1768.5 642L1773.4 638.5L1778.2 634.7L1783.1 630.5L1788 625.9L1792.9 620.9L1797.7 615.4L1802.6 609.5L1807.5 603L1812.4 596.1L1817.2 588.7L1822.1 580.8L1827 572.3L1831.8 563.3L1836.7 553.8L1841.6 543.9L1846.5 533.5L1851.3 522.7L1856.2 511.5L1861.1 500L1866 488.3L1870.8 476.4L1875.7 464.4L1880.6 452.4L1885.5 440.4L1890.3 428.5L1895.2 416.8L1900.1 405.4L1905 394.3L1909.8 383.6L1914.7 373.3L1919.6 363.5L1924.5 354.1L1929.3 345.3L1934.2 337L1939.1 329.1L1944 321.8L1948.8 315.1L1953.7 308.8L1958.6 303L1963.4 297.6L1968.3 292.7L1973.2 288.2L1978.1 284.1L1982.9 280.3L1987.8 276.9L1992.7 273.8L1997.6 271L2002.4 268.4L2007.3 266.1L2012.2 264L2017.1 262.2L2021.9 260.5L2026.8 258.9L2031.7 257.6L2036.6 256.3L2041.4 255.2L2046.3 254.2L2051.2 253.3L2056.1 252.5L2060.9 251.8L2065.8 251.2L2070.7 250.6L2075.6 250.1L2080.4 249.6L2085.3 249.2L2090.2 248.8L2095.1 248.5L2099.9 248.2L2104.8 247.9" stroke="#bababa" stroke-width="2" fill="none"/>
<path d="M1671 674.8L1675.9 674.8L1680.7 674.8L1685.6 674.7L1690.5 674.7L1695.4 674.6L1700.2 674.5L1705.1 674.4L1710 674.3L1714.9 674.2L1719.7 674L1724.6 673.8L1729.5 673.6L1734.4 673.3L1739.2 672.9L1744.1 672.5L1749 672L1753.9 671.4L1758.7 670.7L1763.6 669.8L1768.5 668.8L1773.4 667.6L1778.2 666.1L1783.1 664.4L1788 662.3L1792.9 659.8L1797.7 656.9L1802.6 653.4L1807.5 649.3L1812.4 644.5L1817.2 638.9L1822.1 632.3L1827 624.7L1831.8 615.9L1836.7 605.9L1841.6 594.6L1846.5 581.9L1851.3 567.7L1856.2 552.2L1861.1 535.5L1866 517.6L1870.8 498.8L1875.7 479.3L1880.6 459.6L1885.5 439.8L1890.3 420.3L1895.2 401.5L1900.1 383.6L1905 366.8L1909.8 351.2L1914.7 337.1L1919.6 324.3L1924.5 312.9L1929.3 302.8L1934.2 294L1939.1 286.4L1944 279.8L1948.8 274.1L1953.7 269.3L1958.6 265.2L1963.4 261.7L1968.3 258.7L1973.2 256.2L1978.1 254.1L1982.9 252.4L1987.8 250.9L1992.7 249.7L1997.6 248.7L2002.4 247.8L2007.3 247.1L2012.2 246.5L2017.1 246L2021.9 245.6L2026.8 245.2L2031.7 244.9L2036.6 244.7L2041.4 244.5L2046.3 244.3L2051.2 244.2L2056.1 244L2060.9 243.9L2065.8 243.9L2070.7 243.8L2075.6 243.7L2080.4 243.7L2085.3 243.7L2090.2 243.6L2095.1 243.6L2099.9 243.6L2104.8 243.6" stroke="#bababa" stroke-width="2" fill="none"/>
<path d="M1651 646.8H1671M2104.8 241.3H2125M1651 674.1H1671M2104.8 241.3H2125M1651 674.1H1671M2104.8 245.6H2125M1651 675H1671M2104.8 243.5H2125" stroke="#c8c8c8" stroke-width="2" stroke-dasharray="2 3.6" fill="none"/>
<path d="M1651 662.2H1671M2104.8 248.2H2125" stroke="#000" stroke-width="2.8" stroke-dasharray="2.8 2.9" fill="none"/>
<path d="M1671 661.5L1674.1 661.5L1677.2 661.4L1680.4 661.3L1683.5 661.2L1686.6 661.1L1689.7 661L1692.8 660.9L1696 660.8L1699.1 660.6L1702.2 660.5L1705.3 660.3L1708.5 660.1L1711.6 659.9L1714.7 659.6L1717.8 659.4L1720.9 659.1L1724.1 658.8L1727.2 658.4L1730.3 658L1733.4 657.6L1736.5 657.1L1739.7 656.6L1742.8 656L1745.9 655.4L1749 654.7L1752.1 653.9L1755.3 653.1L1758.4 652.2L1761.5 651.2L1764.6 650L1767.7 648.8L1770.9 647.5L1774 646L1777.1 644.4L1780.2 642.6L1783.4 640.7L1786.5 638.5L1789.6 636.2L1792.7 633.7L1795.8 631L1799 628L1802.1 624.7L1805.2 621.2L1808.3 617.4L1811.4 613.3L1814.6 608.8L1817.7 604L1820.8 598.9L1823.9 593.4L1827 587.5L1830.2 581.2L1833.3 574.5L1836.4 567.5L1839.5 560L1842.6 552.2L1845.8 544L1848.9 535.4L1852 526.5L1855.1 517.3L1858.3 507.8L1861.4 498.1L1864.5 488.2L1867.6 478.1L1870.7 467.9L1873.9 457.6L1877 447.4L1880.1 437.1L1883.2 427L1886.3 417L1889.5 407.1L1892.6 397.5L1895.7 388.2L1898.8 379.1L1901.9 370.4L1905.1 362L1908.2 354L1911.3 346.4L1914.4 339.1L1917.5 332.3L1920.7 325.8L1923.8 319.7L1926.9 314L1930 308.7L1933.2 303.8L1936.3 299.2L1939.4 294.9L1942.5 290.9L1945.6 287.2L1948.8 283.9L1951.9 280.8L1955 277.9L1958.1 275.3L1961.2 272.9L1964.4 270.6L1967.5 268.6L1970.6 266.8L1973.7 265.1L1976.8 263.5L1980 262.1L1983.1 260.9L1986.2 259.7L1989.3 258.6L1992.4 257.7L1995.6 256.8L1998.7 256L2001.8 255.3L2004.9 254.6L2008.1 254L2011.2 253.4L2014.3 253L2017.4 252.5L2020.5 252.1L2023.7 251.7L2026.8 251.4L2029.9 251.1L2033 250.8L2036.1 250.6L2039.3 250.3L2042.4 250.1L2045.5 249.9L2048.6 249.8L2051.7 249.6L2054.9 249.5L2058 249.4L2061.1 249.2L2064.2 249.1L2067.3 249L2070.5 249L2073.6 248.9L2076.7 248.8L2079.8 248.8L2083 248.7L2086.1 248.6L2089.2 248.6L2092.3 248.6L2095.4 248.5L2098.6 248.5L2101.7 248.5L2104.8 248.4" stroke="#000" stroke-width="2.9" fill="none"/>
<path d="M1779.5 626.2V650.2" stroke="#000" stroke-width="3" fill="none"/>
<path d="M1859 505V524.8" stroke="#000" stroke-width="3" fill="none"/>
<path d="M1916.8 320.9V342.7" stroke="#000" stroke-width="3" fill="none"/>
<circle cx="1671" cy="665.4" r="7.7" fill="#3a7f8d" stroke="#000" stroke-width="3.1"/>
<circle cx="1779.5" cy="637.9" r="7.7" fill="#3a7f8d" stroke="#000" stroke-width="3.1"/>
<circle cx="1859" cy="513.6" r="7.7" fill="#3a7f8d" stroke="#000" stroke-width="3.1"/>
<circle cx="1916.8" cy="332.6" r="7.7" fill="#3a7f8d" stroke="#000" stroke-width="3.1"/>
<circle cx="1996.3" cy="262.3" r="7.7" fill="#3a7f8d" stroke="#000" stroke-width="3.1"/>
<circle cx="2104.8" cy="244" r="7.7" fill="#3a7f8d" stroke="#000" stroke-width="3.1"/>
<path d="M110 1623.5L114.9 1623.5L119.7 1623.5L124.6 1623.5L129.5 1623.5L134.4 1623.5L139.2 1623.5L144.1 1623.5L149 1623.5L153.9 1623.5L158.7 1623.5L163.6 1623.5L168.5 1623.5L173.4 1623.4L178.2 1623.4L183.1 1623.3L188 1623.3L192.9 1623.2L197.7 1623.1L202.6 1622.9L207.5 1622.7L212.4 1622.4L217.2 1622L222.1 1621.6L227 1620.9L231.9 1620L236.7 1618.9L241.6 1617.3L246.5 1615.3L251.4 1612.6L256.2 1609.1L261.1 1604.5L266 1598.5L270.8 1590.8L275.7 1581L280.6 1568.7L285.5 1553.7L290.3 1535.5L295.2 1514.3L300.1 1490.1L305 1463.7L309.8 1435.8L314.7 1407.6L319.6 1380.2L324.5 1354.7L329.3 1331.7L334.2 1311.8L339.1 1295L344 1281.1L348.8 1270L353.7 1261.1L358.6 1254.2L363.5 1248.9L368.3 1244.7L373.2 1241.6L378.1 1239.2L383 1237.4L387.8 1236L392.7 1235L397.6 1234.2L402.4 1233.7L407.3 1233.2L412.2 1232.9L417.1 1232.6L421.9 1232.5L426.8 1232.3L431.7 1232.2L436.6 1232.1L441.4 1232.1L446.3 1232L451.2 1232L456.1 1232L460.9 1232L465.8 1231.9L470.7 1231.9L475.6 1231.9L480.4 1231.9L485.3 1231.9L490.2 1231.9L495.1 1231.9L499.9 1231.9L504.8 1231.9L509.7 1231.9L514.6 1231.9L519.4 1231.9L524.3 1231.9L529.2 1231.9L534.1 1231.9L538.9 1231.9L543.8 1231.9" stroke="#bababa" stroke-width="2" fill="none"/>
<path d="M110 1655L114.9 1655L119.7 1655L124.6 1654.9L129.5 1654.9L134.4 1654.8L139.2 1654.7L144.1 1654.7L149 1654.6L153.9 1654.4L158.7 1654.3L163.6 1654.1L168.5 1654L173.4 1653.7L178.2 1653.5L183.1 1653.1L188 1652.8L192.9 1652.3L197.7 1651.8L202.6 1651.2L207.5 1650.5L212.4 1649.6L217.2 1648.6L222.1 1647.4L227 1646L231.9 1644.4L236.7 1642.5L241.6 1640.2L246.5 1637.6L251.4 1634.5L256.2 1630.9L261.1 1626.8L266 1622L270.8 1616.5L275.7 1610.2L280.6 1603L285.5 1594.8L290.3 1585.6L295.2 1575.3L300.1 1563.9L305 1551.3L309.8 1537.7L314.7 1523.1L319.6 1507.6L324.5 1491.3L329.3 1474.4L334.2 1457.2L339.1 1440L344 1422.8L348.8 1406L353.7 1389.8L358.6 1374.4L363.5 1359.9L368.3 1346.5L373.2 1334.1L378.1 1322.9L383 1312.7L387.8 1303.7L392.7 1295.6L397.6 1288.5L402.4 1282.3L407.3 1276.9L412.2 1272.2L417.1 1268.2L421.9 1264.7L426.8 1261.7L431.7 1259.1L436.6 1256.9L441.4 1255L446.3 1253.4L451.2 1252.1L456.1 1250.9L460.9 1249.9L465.8 1249.1L470.7 1248.4L475.6 1247.8L480.4 1247.3L485.3 1246.8L490.2 1246.5L495.1 1246.2L499.9 1245.9L504.8 1245.7L509.7 1245.5L514.6 1245.3L519.4 1245.2L524.3 1245.1L529.2 1245L534.1 1244.9L538.9 1244.9L543.8 1244.8" stroke="#bababa" stroke-width="2" fill="none"/>
<path d="M110 1619.9L114.9 1618.4L119.7 1616.8L124.6 1615.1L129.5 1613.3L134.4 1611.3L139.2 1609.3L144.1 1607.1L149 1604.7L153.9 1602.3L158.7 1599.7L163.6 1596.9L168.5 1593.9L173.4 1590.8L178.2 1587.6L183.1 1584.1L188 1580.5L192.9 1576.7L197.7 1572.7L202.6 1568.5L207.5 1564.1L212.4 1559.5L217.2 1554.7L222.1 1549.7L227 1544.5L231.9 1539.1L236.7 1533.5L241.6 1527.7L246.5 1521.8L251.4 1515.6L256.2 1509.3L261.1 1502.9L266 1496.3L270.8 1489.5L275.7 1482.7L280.6 1475.7L285.5 1468.7L290.3 1461.6L295.2 1454.4L300.1 1447.2L305 1440L309.8 1432.8L314.7 1425.7L319.6 1418.5L324.5 1411.5L329.3 1404.5L334.2 1397.6L339.1 1390.8L344 1384.1L348.8 1377.6L353.7 1371.2L358.6 1365L363.5 1358.9L368.3 1353L373.2 1347.4L378.1 1341.9L383 1336.6L387.8 1331.5L392.7 1326.6L397.6 1321.9L402.4 1317.4L407.3 1313.1L412.2 1309L417.1 1305L421.9 1301.3L426.8 1297.8L431.7 1294.4L436.6 1291.2L441.4 1288.2L446.3 1285.4L451.2 1282.7L456.1 1280.1L460.9 1277.7L465.8 1275.5L470.7 1273.3L475.6 1271.3L480.4 1269.4L485.3 1267.7L490.2 1266L495.1 1264.4L499.9 1263L504.8 1261.6L509.7 1260.3L514.6 1259.1L519.4 1258L524.3 1256.9L529.2 1256L534.1 1255L538.9 1254.2L543.8 1253.4" stroke="#bababa" stroke-width="2" fill="none"/>
<path d="M110 1635.4L114.9 1634.2L119.7 1632.9L124.6 1631.5L129.5 1630L134.4 1628.5L139.2 1626.7L144.1 1624.9L149 1622.9L153.9 1620.8L158.7 1618.6L163.6 1616.1L168.5 1613.5L173.4 1610.8L178.2 1607.8L183.1 1604.7L188 1601.3L192.9 1597.7L197.7 1593.9L202.6 1589.9L207.5 1585.7L212.4 1581.2L217.2 1576.4L222.1 1571.4L227 1566.2L231.9 1560.7L236.7 1554.9L241.6 1548.9L246.5 1542.7L251.4 1536.2L256.2 1529.5L261.1 1522.5L266 1515.4L270.8 1508L275.7 1500.5L280.6 1492.8L285.5 1485L290.3 1477L295.2 1469L300.1 1460.9L305 1452.8L309.8 1444.6L314.7 1436.5L319.6 1428.4L324.5 1420.3L329.3 1412.4L334.2 1404.5L339.1 1396.8L344 1389.3L348.8 1381.9L353.7 1374.7L358.6 1367.8L363.5 1361L368.3 1354.5L373.2 1348.2L378.1 1342.2L383 1336.4L387.8 1330.9L392.7 1325.7L397.6 1320.6L402.4 1315.9L407.3 1311.4L412.2 1307.1L417.1 1303.1L421.9 1299.2L426.8 1295.6L431.7 1292.3L436.6 1289.1L441.4 1286.1L446.3 1283.3L451.2 1280.7L456.1 1278.3L460.9 1276L465.8 1273.9L470.7 1271.9L475.6 1270L480.4 1268.3L485.3 1266.7L490.2 1265.2L495.1 1263.9L499.9 1262.6L504.8 1261.4L509.7 1260.3L514.6 1259.2L519.4 1258.3L524.3 1257.4L529.2 1256.6L534.1 1255.8L538.9 1255.1L543.8 1254.5" stroke="#bababa" stroke-width="2" fill="none"/>
<path d="M90 1623.5H110M543.8 1231.9H564M90 1655.2H110M543.8 1244.5H564M90 1641.3H110M543.8 1242.3H564M90 1650H110M543.8 1246.6H564" stroke="#c8c8c8" stroke-width="2" stroke-dasharray="2 3.6" fill="none"/>
<path d="M90 1644H110M543.8 1239H564" stroke="#000" stroke-width="2.8" stroke-dasharray="2.8 2.9" fill="none"/>
<path d="M110 1640.4L113.1 1640.1L116.2 1639.8L119.4 1639.5L122.5 1639.2L125.6 1638.8L128.7 1638.5L131.8 1638L135 1637.6L138.1 1637.1L141.2 1636.6L144.3 1636.1L147.5 1635.5L150.6 1634.9L153.7 1634.2L156.8 1633.5L159.9 1632.8L163.1 1632L166.2 1631.1L169.3 1630.2L172.4 1629.2L175.5 1628.1L178.7 1627L181.8 1625.8L184.9 1624.5L188 1623.1L191.1 1621.6L194.3 1620.1L197.4 1618.4L200.5 1616.6L203.6 1614.7L206.7 1612.7L209.9 1610.6L213 1608.3L216.1 1605.9L219.2 1603.4L222.4 1600.7L225.5 1597.8L228.6 1594.8L231.7 1591.6L234.8 1588.3L238 1584.8L241.1 1581L244.2 1577.1L247.3 1573L250.4 1568.8L253.6 1564.3L256.7 1559.6L259.8 1554.7L262.9 1549.6L266 1544.3L269.2 1538.8L272.3 1533.2L275.4 1527.3L278.5 1521.3L281.6 1515L284.8 1508.7L287.9 1502.1L291 1495.5L294.1 1488.7L297.3 1481.8L300.4 1474.7L303.5 1467.7L306.6 1460.5L309.7 1453.3L312.9 1446L316 1438.8L319.1 1431.5L322.2 1424.3L325.3 1417.2L328.5 1410L331.6 1403L334.7 1396.1L337.8 1389.2L340.9 1382.5L344.1 1376L347.2 1369.6L350.3 1363.3L353.4 1357.2L356.5 1351.3L359.7 1345.6L362.8 1340.1L365.9 1334.7L369 1329.6L372.2 1324.7L375.3 1319.9L378.4 1315.4L381.5 1311L384.6 1306.9L387.8 1303L390.9 1299.2L394 1295.6L397.1 1292.2L400.2 1289L403.4 1285.9L406.5 1283L409.6 1280.3L412.7 1277.7L415.8 1275.3L419 1273L422.1 1270.8L425.2 1268.8L428.3 1266.9L431.4 1265.1L434.6 1263.4L437.7 1261.8L440.8 1260.3L443.9 1258.9L447.1 1257.6L450.2 1256.4L453.3 1255.2L456.4 1254.1L459.5 1253.1L462.7 1252.2L465.8 1251.3L468.9 1250.5L472 1249.7L475.1 1249L478.3 1248.3L481.4 1247.7L484.5 1247.1L487.6 1246.6L490.7 1246L493.9 1245.6L497 1245.1L500.1 1244.7L503.2 1244.3L506.3 1244L509.5 1243.6L512.6 1243.3L515.7 1243L518.8 1242.7L522 1242.5L525.1 1242.2L528.2 1242L531.3 1241.8L534.4 1241.6L537.6 1241.4L540.7 1241.3L543.8 1241.1" stroke="#000" stroke-width="2.9" fill="none"/>
<path d="M218.5 1551.5V1603.3" stroke="#000" stroke-width="3" fill="none"/>
<path d="M269.1 1505.2V1570.6" stroke="#000" stroke-width="3" fill="none"/>
<path d="M298 1490.2V1538.4" stroke="#000" stroke-width="3" fill="none"/>
<path d="M355.8 1316.2V1379.8" stroke="#000" stroke-width="3" fill="none"/>
<path d="M384.7 1278.3V1329.3" stroke="#000" stroke-width="3" fill="none"/>
<path d="M435.4 1257.9V1278.3" stroke="#000" stroke-width="3" fill="none"/>
<circle cx="110" cy="1644.4" r="7.7" fill="#FCA626" stroke="#000" stroke-width="3.1"/>
<circle cx="218.5" cy="1578" r="7.7" fill="#FCA626" stroke="#000" stroke-width="3.1"/>
<circle cx="269.1" cy="1538.4" r="7.7" fill="#FCA626" stroke="#000" stroke-width="3.1"/>
<circle cx="298" cy="1513.9" r="7.7" fill="#FCA626" stroke="#000" stroke-width="3.1"/>
<circle cx="355.8" cy="1348.4" r="7.7" fill="#FCA626" stroke="#000" stroke-width="3.1"/>
<circle cx="384.7" cy="1304" r="7.7" fill="#FCA626" stroke="#000" stroke-width="3.1"/>
<circle cx="435.4" cy="1268" r="7.7" fill="#FCA626" stroke="#000" stroke-width="3.1"/>
<circle cx="543.8" cy="1242.6" r="7.7" fill="#FCA626" stroke="#000" stroke-width="3.1"/>
<path d="M890.5 1634.8L895.4 1634.8L900.2 1634.8L905.1 1634.8L910 1634.8L914.9 1634.8L919.7 1634.7L924.6 1634.7L929.5 1634.7L934.4 1634.6L939.2 1634.5L944.1 1634.4L949 1634.2L953.9 1634L958.7 1633.7L963.6 1633.3L968.5 1632.8L973.4 1632.2L978.2 1631.3L983.1 1630.2L988 1628.8L992.9 1627.1L997.7 1625L1002.6 1622.5L1007.5 1619.4L1012.4 1615.6L1017.2 1611.2L1022.1 1606.1L1027 1600.1L1031.9 1593.2L1036.7 1585.4L1041.6 1576.7L1046.5 1566.9L1051.3 1556.1L1056.2 1544.3L1061.1 1531.6L1066 1518.1L1070.8 1503.7L1075.7 1488.7L1080.6 1473L1085.5 1457L1090.3 1440.8L1095.2 1424.4L1100.1 1408.1L1105 1392.1L1109.8 1376.5L1114.7 1361.4L1119.6 1347L1124.5 1333.3L1129.3 1320.6L1134.2 1308.8L1139.1 1297.9L1144 1288.1L1148.8 1279.2L1153.7 1271.4L1158.6 1264.4L1163.5 1258.4L1168.3 1253.2L1173.2 1248.7L1178.1 1245L1182.9 1241.8L1187.8 1239.2L1192.7 1237.1L1197.6 1235.4L1202.4 1234L1207.3 1232.9L1212.2 1232L1217.1 1231.3L1221.9 1230.8L1226.8 1230.4L1231.7 1230.1L1236.6 1229.9L1241.4 1229.7L1246.3 1229.6L1251.2 1229.5L1256.1 1229.4L1260.9 1229.4L1265.8 1229.4L1270.7 1229.3L1275.6 1229.3L1280.4 1229.3L1285.3 1229.3L1290.2 1229.3L1295.1 1229.3L1299.9 1229.3L1304.8 1229.3L1309.7 1229.3L1314.6 1229.3L1319.4 1229.3L1324.3 1229.3" stroke="#bababa" stroke-width="2" fill="none"/>
<path d="M890.5 1662.9L895.4 1662.9L900.2 1662.9L905.1 1662.8L910 1662.8L914.9 1662.7L919.7 1662.6L924.6 1662.5L929.5 1662.4L934.4 1662.3L939.2 1662.1L944.1 1661.8L949 1661.5L953.9 1661.2L958.7 1660.8L963.6 1660.2L968.5 1659.6L973.4 1658.9L978.2 1658L983.1 1657L988 1655.8L992.9 1654.4L997.7 1652.8L1002.6 1651L1007.5 1648.8L1012.4 1646.4L1017.2 1643.6L1022.1 1640.5L1027 1636.9L1031.9 1633L1036.7 1628.6L1041.6 1623.8L1046.5 1618.4L1051.3 1612.6L1056.2 1606.2L1061.1 1599.3L1066 1591.8L1070.8 1583.8L1075.7 1575.3L1080.6 1566.3L1085.5 1556.7L1090.3 1546.7L1095.2 1536.2L1100.1 1525.3L1105 1514L1109.8 1502.4L1114.7 1490.5L1119.6 1478.4L1124.5 1466.2L1129.3 1453.8L1134.2 1441.4L1139.1 1429.1L1144 1416.9L1148.8 1404.8L1153.7 1393L1158.6 1381.4L1163.5 1370.1L1168.3 1359.3L1173.2 1348.8L1178.1 1338.8L1182.9 1329.3L1187.8 1320.3L1192.7 1311.9L1197.6 1303.9L1202.4 1296.6L1207.3 1289.7L1212.2 1283.4L1217.1 1277.6L1221.9 1272.3L1226.8 1267.5L1231.7 1263.2L1236.6 1259.3L1241.4 1255.8L1246.3 1252.7L1251.2 1250L1256.1 1247.6L1260.9 1245.5L1265.8 1243.6L1270.7 1242L1275.6 1240.7L1280.4 1239.5L1285.3 1238.5L1290.2 1237.7L1295.1 1236.9L1299.9 1236.3L1304.8 1235.8L1309.7 1235.4L1314.6 1235.1L1319.4 1234.8L1324.3 1234.6" stroke="#bababa" stroke-width="2" fill="none"/>
<path d="M890.5 1663L895.4 1663L900.2 1663L905.1 1662.9L910 1662.9L914.9 1662.9L919.7 1662.8L924.6 1662.7L929.5 1662.6L934.4 1662.5L939.2 1662.3L944.1 1662.1L949 1661.8L953.9 1661.5L958.7 1661L963.6 1660.4L968.5 1659.6L973.4 1658.6L978.2 1657.4L983.1 1656L988 1654.2L992.9 1652.1L997.7 1649.5L1002.6 1646.4L1007.5 1642.8L1012.4 1638.7L1017.2 1633.8L1022.1 1628.3L1027 1621.9L1031.9 1614.8L1036.7 1606.8L1041.6 1598L1046.5 1588.2L1051.3 1577.6L1056.2 1566.1L1061.1 1553.8L1066 1540.7L1070.8 1526.9L1075.7 1512.4L1080.6 1497.5L1085.5 1482.1L1090.3 1466.4L1095.2 1450.5L1100.1 1434.6L1105 1418.8L1109.8 1403.3L1114.7 1388L1119.6 1373.3L1124.5 1359.1L1129.3 1345.6L1134.2 1332.9L1139.1 1320.9L1144 1309.8L1148.8 1299.6L1153.7 1290.3L1158.6 1281.8L1163.5 1274.2L1168.3 1267.4L1173.2 1261.5L1178.1 1256.2L1182.9 1251.7L1187.8 1247.8L1192.7 1244.4L1197.6 1241.6L1202.4 1239.2L1207.3 1237.3L1212.2 1235.6L1217.1 1234.3L1221.9 1233.2L1226.8 1232.3L1231.7 1231.6L1236.6 1231.1L1241.4 1230.7L1246.3 1230.3L1251.2 1230.1L1256.1 1229.9L1260.9 1229.7L1265.8 1229.6L1270.7 1229.5L1275.6 1229.5L1280.4 1229.4L1285.3 1229.4L1290.2 1229.4L1295.1 1229.3L1299.9 1229.3L1304.8 1229.3L1309.7 1229.3L1314.6 1229.3L1319.4 1229.3L1324.3 1229.3" stroke="#bababa" stroke-width="2" fill="none"/>
<path d="M890.5 1660.7L895.4 1660.6L900.2 1660.6L905.1 1660.5L910 1660.4L914.9 1660.2L919.7 1660.1L924.6 1659.9L929.5 1659.6L934.4 1659.3L939.2 1658.9L944.1 1658.4L949 1657.8L953.9 1657L958.7 1656.2L963.6 1655.1L968.5 1653.9L973.4 1652.4L978.2 1650.7L983.1 1648.7L988 1646.3L992.9 1643.6L997.7 1640.6L1002.6 1637L1007.5 1633.1L1012.4 1628.6L1017.2 1623.6L1022.1 1618L1027 1611.9L1031.9 1605.1L1036.7 1597.7L1041.6 1589.7L1046.5 1581.1L1051.3 1571.9L1056.2 1562L1061.1 1551.6L1066 1540.6L1070.8 1529.1L1075.7 1517.1L1080.6 1504.7L1085.5 1492L1090.3 1479L1095.2 1465.8L1100.1 1452.5L1105 1439.2L1109.8 1425.9L1114.7 1412.7L1119.6 1399.7L1124.5 1387L1129.3 1374.6L1134.2 1362.6L1139.1 1351.1L1144 1340.1L1148.8 1329.6L1153.7 1319.8L1158.6 1310.5L1163.5 1301.9L1168.3 1293.9L1173.2 1286.5L1178.1 1279.7L1182.9 1273.5L1187.8 1268L1192.7 1262.9L1197.6 1258.5L1202.4 1254.5L1207.3 1251L1212.2 1247.9L1217.1 1245.2L1221.9 1242.8L1226.8 1240.8L1231.7 1239.1L1236.6 1237.6L1241.4 1236.3L1246.3 1235.3L1251.2 1234.4L1256.1 1233.7L1260.9 1233.1L1265.8 1232.6L1270.7 1232.2L1275.6 1231.8L1280.4 1231.6L1285.3 1231.4L1290.2 1231.2L1295.1 1231.1L1299.9 1231L1304.8 1230.9L1309.7 1230.8L1314.6 1230.8L1319.4 1230.7L1324.3 1230.7" stroke="#bababa" stroke-width="2" fill="none"/>
<path d="M890.5 1663L895.4 1662.9L900.2 1662.9L905.1 1662.9L910 1662.8L914.9 1662.8L919.7 1662.7L924.6 1662.6L929.5 1662.5L934.4 1662.4L939.2 1662.2L944.1 1661.9L949 1661.6L953.9 1661.2L958.7 1660.7L963.6 1660L968.5 1659.3L973.4 1658.3L978.2 1657.2L983.1 1655.8L988 1654.1L992.9 1652.1L997.7 1649.8L1002.6 1647.1L1007.5 1643.9L1012.4 1640.3L1017.2 1636.1L1022.1 1631.3L1027 1626L1031.9 1619.9L1036.7 1613.2L1041.6 1605.7L1046.5 1597.6L1051.3 1588.6L1056.2 1579L1061.1 1568.6L1066 1557.4L1070.8 1545.7L1075.7 1533.3L1080.6 1520.3L1085.5 1506.9L1090.3 1493L1095.2 1478.8L1100.1 1464.4L1105 1449.8L1109.8 1435.3L1114.7 1420.8L1119.6 1406.4L1124.5 1392.4L1129.3 1378.7L1134.2 1365.5L1139.1 1352.8L1144 1340.7L1148.8 1329.3L1153.7 1318.5L1158.6 1308.5L1163.5 1299.2L1168.3 1290.6L1173.2 1282.8L1178.1 1275.7L1182.9 1269.3L1187.8 1263.6L1192.7 1258.5L1197.6 1254.1L1202.4 1250.1L1207.3 1246.7L1212.2 1243.8L1217.1 1241.3L1221.9 1239.1L1226.8 1237.3L1231.7 1235.8L1236.6 1234.5L1241.4 1233.5L1246.3 1232.6L1251.2 1231.9L1256.1 1231.4L1260.9 1230.9L1265.8 1230.6L1270.7 1230.3L1275.6 1230L1280.4 1229.9L1285.3 1229.7L1290.2 1229.6L1295.1 1229.5L1299.9 1229.5L1304.8 1229.4L1309.7 1229.4L1314.6 1229.4L1319.4 1229.3L1324.3 1229.3" stroke="#bababa" stroke-width="2" fill="none"/>
<path d="M890.5 1658.3L895.4 1658.1L900.2 1658L905.1 1657.8L910 1657.6L914.9 1657.4L919.7 1657.1L924.6 1656.7L929.5 1656.2L934.4 1655.7L939.2 1655L944.1 1654.2L949 1653.3L953.9 1652.2L958.7 1650.9L963.6 1649.4L968.5 1647.7L973.4 1645.7L978.2 1643.5L983.1 1640.9L988 1638L992.9 1634.7L997.7 1631L1002.6 1626.8L1007.5 1622.3L1012.4 1617.2L1017.2 1611.6L1022.1 1605.6L1027 1599L1031.9 1591.8L1036.7 1584.1L1041.6 1575.9L1046.5 1567.2L1051.3 1557.9L1056.2 1548.1L1061.1 1537.9L1066 1527.2L1070.8 1516.1L1075.7 1504.7L1080.6 1493L1085.5 1481L1090.3 1468.8L1095.2 1456.5L1100.1 1444.2L1105 1431.8L1109.8 1419.5L1114.7 1407.4L1119.6 1395.4L1124.5 1383.6L1129.3 1372.2L1134.2 1361.1L1139.1 1350.4L1144 1340.2L1148.8 1330.4L1153.7 1321.1L1158.6 1312.3L1163.5 1304.1L1168.3 1296.4L1173.2 1289.2L1178.1 1282.6L1182.9 1276.5L1187.8 1270.9L1192.7 1265.9L1197.6 1261.3L1202.4 1257.1L1207.3 1253.4L1212.2 1250.1L1217.1 1247.2L1221.9 1244.6L1226.8 1242.3L1231.7 1240.3L1236.6 1238.6L1241.4 1237.1L1246.3 1235.8L1251.2 1234.7L1256.1 1233.8L1260.9 1233L1265.8 1232.3L1270.7 1231.8L1275.6 1231.3L1280.4 1230.9L1285.3 1230.6L1290.2 1230.3L1295.1 1230.1L1299.9 1230L1304.8 1229.8L1309.7 1229.7L1314.6 1229.6L1319.4 1229.5L1324.3 1229.5" stroke="#bababa" stroke-width="2" fill="none"/>
<path d="M890.5 1662.9L895.4 1662.9L900.2 1662.8L905.1 1662.8L910 1662.7L914.9 1662.6L919.7 1662.5L924.6 1662.3L929.5 1662.1L934.4 1661.9L939.2 1661.6L944.1 1661.2L949 1660.8L953.9 1660.2L958.7 1659.6L963.6 1658.8L968.5 1657.8L973.4 1656.6L978.2 1655.3L983.1 1653.7L988 1651.8L992.9 1649.6L997.7 1647.1L1002.6 1644.2L1007.5 1640.9L1012.4 1637.1L1017.2 1632.9L1022.1 1628.1L1027 1622.8L1031.9 1616.9L1036.7 1610.5L1041.6 1603.4L1046.5 1595.7L1051.3 1587.3L1056.2 1578.3L1061.1 1568.7L1066 1558.5L1070.8 1547.8L1075.7 1536.5L1080.6 1524.7L1085.5 1512.5L1090.3 1499.9L1095.2 1487L1100.1 1473.8L1105 1460.5L1109.8 1447.2L1114.7 1433.8L1119.6 1420.5L1124.5 1407.3L1129.3 1394.4L1134.2 1381.9L1139.1 1369.6L1144 1357.9L1148.8 1346.6L1153.7 1335.8L1158.6 1325.6L1163.5 1316L1168.3 1307.1L1173.2 1298.7L1178.1 1291L1182.9 1283.9L1187.8 1277.5L1192.7 1271.6L1197.6 1266.3L1202.4 1261.5L1207.3 1257.3L1212.2 1253.5L1217.1 1250.2L1221.9 1247.3L1226.8 1244.8L1231.7 1242.6L1236.6 1240.8L1241.4 1239.2L1246.3 1237.8L1251.2 1236.7L1256.1 1235.7L1260.9 1234.9L1265.8 1234.2L1270.7 1233.7L1275.6 1233.2L1280.4 1232.9L1285.3 1232.6L1290.2 1232.3L1295.1 1232.1L1299.9 1232L1304.8 1231.9L1309.7 1231.8L1314.6 1231.7L1319.4 1231.6L1324.3 1231.6" stroke="#bababa" stroke-width="2" fill="none"/>
<path d="M870.5 1634.8H890.5M1324.3 1229.3H1344.5M870.5 1663H890.5M1324.3 1233.6H1344.5M870.5 1663H890.5M1324.3 1229.3H1344.5M870.5 1660.8H890.5M1324.3 1230.6H1344.5M870.5 1663H890.5M1324.3 1229.3H1344.5M870.5 1658.7H890.5M1324.3 1229.3H1344.5M870.5 1663H890.5M1324.3 1231.5H1344.5" stroke="#c8c8c8" stroke-width="2" stroke-dasharray="2 3.6" fill="none"/>
<path d="M870.5 1663H890.5M1324.3 1232H1344.5" stroke="#000" stroke-width="2.8" stroke-dasharray="2.8 2.9" fill="none"/>
<path d="M890.5 1662.1L893.6 1661.9L896.7 1661.8L899.9 1661.6L903 1661.5L906.1 1661.3L909.2 1661L912.3 1660.8L915.5 1660.5L918.6 1660.2L921.7 1659.9L924.8 1659.5L928 1659.1L931.1 1658.6L934.2 1658.1L937.3 1657.6L940.4 1657L943.6 1656.3L946.7 1655.6L949.8 1654.8L952.9 1653.9L956 1653L959.2 1652L962.3 1650.9L965.4 1649.7L968.5 1648.4L971.6 1647L974.8 1645.5L977.9 1643.9L981 1642.2L984.1 1640.4L987.2 1638.4L990.4 1636.4L993.5 1634.1L996.6 1631.8L999.7 1629.2L1002.9 1626.6L1006 1623.8L1009.1 1620.8L1012.2 1617.6L1015.3 1614.3L1018.5 1610.8L1021.6 1607.2L1024.7 1603.4L1027.8 1599.4L1030.9 1595.2L1034.1 1590.9L1037.2 1586.3L1040.3 1581.7L1043.4 1576.8L1046.5 1571.7L1049.7 1566.5L1052.8 1561.2L1055.9 1555.6L1059 1549.9L1062.1 1544.1L1065.3 1538.1L1068.4 1532L1071.5 1525.7L1074.6 1519.3L1077.8 1512.9L1080.9 1506.3L1084 1499.6L1087.1 1492.8L1090.2 1485.9L1093.4 1479L1096.5 1472.1L1099.6 1465.1L1102.7 1458L1105.8 1451L1109 1443.9L1112.1 1436.9L1115.2 1429.8L1118.3 1422.8L1121.4 1415.8L1124.6 1408.9L1127.7 1402.1L1130.8 1395.3L1133.9 1388.6L1137 1382L1140.2 1375.5L1143.3 1369.2L1146.4 1362.9L1149.5 1356.8L1152.7 1350.8L1155.8 1345L1158.9 1339.3L1162 1333.7L1165.1 1328.4L1168.3 1323.2L1171.4 1318.1L1174.5 1313.3L1177.6 1308.6L1180.7 1304L1183.9 1299.7L1187 1295.5L1190.1 1291.5L1193.2 1287.7L1196.3 1284.1L1199.5 1280.6L1202.6 1277.3L1205.7 1274.2L1208.8 1271.2L1211.9 1268.4L1215.1 1265.7L1218.2 1263.2L1221.3 1260.8L1224.4 1258.6L1227.6 1256.5L1230.7 1254.6L1233.8 1252.7L1236.9 1251L1240 1249.4L1243.2 1247.9L1246.3 1246.6L1249.4 1245.3L1252.5 1244.1L1255.6 1243L1258.8 1242L1261.9 1241L1265 1240.2L1268.1 1239.4L1271.2 1238.7L1274.4 1238L1277.5 1237.4L1280.6 1236.9L1283.7 1236.4L1286.8 1235.9L1290 1235.5L1293.1 1235.1L1296.2 1234.8L1299.3 1234.5L1302.5 1234.2L1305.6 1233.9L1308.7 1233.7L1311.8 1233.5L1314.9 1233.3L1318.1 1233.2L1321.2 1233L1324.3 1232.9" stroke="#000" stroke-width="2.9" fill="none"/>
<path d="M1078.5 1487.4V1513.9" stroke="#000" stroke-width="3" fill="none"/>
<path d="M1136.3 1364.8V1406.5" stroke="#000" stroke-width="3" fill="none"/>
<path d="M1215.8 1257.6V1283" stroke="#000" stroke-width="3" fill="none"/>
<circle cx="890.5" cy="1661.4" r="7.7" fill="#3a7f8d" stroke="#000" stroke-width="3.1"/>
<circle cx="999" cy="1644.2" r="7.7" fill="#3a7f8d" stroke="#000" stroke-width="3.1"/>
<circle cx="1078.5" cy="1501.1" r="7.7" fill="#3a7f8d" stroke="#000" stroke-width="3.1"/>
<circle cx="1136.3" cy="1385.2" r="7.7" fill="#3a7f8d" stroke="#000" stroke-width="3.1"/>
<circle cx="1215.8" cy="1270.7" r="7.7" fill="#3a7f8d" stroke="#000" stroke-width="3.1"/>
<circle cx="1324.3" cy="1229.8" r="7.7" fill="#3a7f8d" stroke="#000" stroke-width="3.1"/>
<path d="M1671 1663L1675.9 1663L1680.7 1662.9L1685.6 1662.9L1690.5 1662.9L1695.4 1662.9L1700.2 1662.8L1705.1 1662.7L1710 1662.7L1714.9 1662.6L1719.7 1662.4L1724.6 1662.3L1729.5 1662.1L1734.4 1661.8L1739.2 1661.5L1744.1 1661.1L1749 1660.7L1753.9 1660.1L1758.7 1659.4L1763.6 1658.6L1768.5 1657.6L1773.4 1656.4L1778.2 1655L1783.1 1653.4L1788 1651.5L1792.9 1649.2L1797.7 1646.7L1802.6 1643.7L1807.5 1640.4L1812.4 1636.6L1817.2 1632.3L1822.1 1627.5L1827 1622.2L1831.8 1616.3L1836.7 1609.8L1841.6 1602.7L1846.5 1595L1851.3 1586.7L1856.2 1577.8L1861.1 1568.3L1866 1558.2L1870.8 1547.6L1875.7 1536.4L1880.6 1524.9L1885.5 1512.9L1890.3 1500.6L1895.2 1488L1900.1 1475.2L1905 1462.2L1909.8 1449.2L1914.7 1436.3L1919.6 1423.4L1924.5 1410.8L1929.3 1398.3L1934.2 1386.2L1939.1 1374.5L1944 1363.3L1948.8 1352.5L1953.7 1342.2L1958.6 1332.6L1963.4 1323.5L1968.3 1315L1973.2 1307.1L1978.1 1299.8L1982.9 1293.1L1987.8 1287.1L1992.7 1281.6L1997.6 1276.6L2002.4 1272.2L2007.3 1268.2L2012.2 1264.7L2017.1 1261.7L2021.9 1259L2026.8 1256.7L2031.7 1254.7L2036.6 1252.9L2041.4 1251.5L2046.3 1250.2L2051.2 1249.2L2056.1 1248.3L2060.9 1247.6L2065.8 1247L2070.7 1246.5L2075.6 1246.1L2080.4 1245.7L2085.3 1245.5L2090.2 1245.2L2095.1 1245.1L2099.9 1244.9L2104.8 1244.8" stroke="#bababa" stroke-width="2" fill="none"/>
<path d="M1671 1654.2L1675.9 1654.1L1680.7 1654L1685.6 1654L1690.5 1653.9L1695.4 1653.7L1700.2 1653.5L1705.1 1653.3L1710 1653L1714.9 1652.7L1719.7 1652.3L1724.6 1651.8L1729.5 1651.2L1734.4 1650.4L1739.2 1649.5L1744.1 1648.5L1749 1647.2L1753.9 1645.7L1758.7 1643.9L1763.6 1641.9L1768.5 1639.5L1773.4 1636.8L1778.2 1633.6L1783.1 1630.1L1788 1626.1L1792.9 1621.5L1797.7 1616.5L1802.6 1610.9L1807.5 1604.7L1812.4 1597.9L1817.2 1590.5L1822.1 1582.5L1827 1573.8L1831.8 1564.6L1836.7 1554.7L1841.6 1544.3L1846.5 1533.3L1851.3 1521.9L1856.2 1509.9L1861.1 1497.7L1866 1485L1870.8 1472.2L1875.7 1459.1L1880.6 1445.9L1885.5 1432.8L1890.3 1419.6L1895.2 1406.6L1900.1 1393.8L1905 1381.3L1909.8 1369.2L1914.7 1357.4L1919.6 1346.2L1924.5 1335.4L1929.3 1325.2L1934.2 1315.5L1939.1 1306.5L1944 1298.1L1948.8 1290.3L1953.7 1283.1L1958.6 1276.6L1963.4 1270.6L1968.3 1265.2L1973.2 1260.3L1978.1 1256L1982.9 1252.2L1987.8 1248.8L1992.7 1245.8L1997.6 1243.2L2002.4 1240.9L2007.3 1239L2012.2 1237.4L2017.1 1235.9L2021.9 1234.8L2026.8 1233.7L2031.7 1232.9L2036.6 1232.2L2041.4 1231.6L2046.3 1231.2L2051.2 1230.8L2056.1 1230.5L2060.9 1230.2L2065.8 1230L2070.7 1229.9L2075.6 1229.7L2080.4 1229.6L2085.3 1229.6L2090.2 1229.5L2095.1 1229.4L2099.9 1229.4L2104.8 1229.4" stroke="#bababa" stroke-width="2" fill="none"/>
<path d="M1671 1662.8L1675.9 1662.8L1680.7 1662.7L1685.6 1662.6L1690.5 1662.5L1695.4 1662.4L1700.2 1662.2L1705.1 1662L1710 1661.8L1714.9 1661.5L1719.7 1661.1L1724.6 1660.6L1729.5 1660.1L1734.4 1659.4L1739.2 1658.6L1744.1 1657.7L1749 1656.5L1753.9 1655.2L1758.7 1653.7L1763.6 1651.9L1768.5 1649.8L1773.4 1647.4L1778.2 1644.6L1783.1 1641.5L1788 1638L1792.9 1634L1797.7 1629.5L1802.6 1624.6L1807.5 1619.1L1812.4 1613.1L1817.2 1606.5L1822.1 1599.3L1827 1591.6L1831.8 1583.2L1836.7 1574.3L1841.6 1564.8L1846.5 1554.8L1851.3 1544.2L1856.2 1533.2L1861.1 1521.7L1866 1509.9L1870.8 1497.7L1875.7 1485.2L1880.6 1472.5L1885.5 1459.6L1890.3 1446.7L1895.2 1433.8L1900.1 1421L1905 1408.3L1909.8 1395.8L1914.7 1383.6L1919.6 1371.7L1924.5 1360.3L1929.3 1349.2L1934.2 1338.7L1939.1 1328.7L1944 1319.2L1948.8 1310.3L1953.7 1301.9L1958.6 1294.2L1963.4 1287L1968.3 1280.4L1973.2 1274.4L1978.1 1269L1982.9 1264L1987.8 1259.6L1992.7 1255.6L1997.6 1252.1L2002.4 1248.9L2007.3 1246.2L2012.2 1243.8L2017.1 1241.7L2021.9 1239.9L2026.8 1238.4L2031.7 1237L2036.6 1235.9L2041.4 1235L2046.3 1234.2L2051.2 1233.5L2056.1 1232.9L2060.9 1232.5L2065.8 1232.1L2070.7 1231.8L2075.6 1231.6L2080.4 1231.4L2085.3 1231.2L2090.2 1231.1L2095.1 1231L2099.9 1230.9L2104.8 1230.8" stroke="#bababa" stroke-width="2" fill="none"/>
<path d="M1671 1662.9L1675.9 1662.9L1680.7 1662.9L1685.6 1662.8L1690.5 1662.8L1695.4 1662.7L1700.2 1662.6L1705.1 1662.5L1710 1662.3L1714.9 1662.1L1719.7 1661.9L1724.6 1661.6L1729.5 1661.2L1734.4 1660.8L1739.2 1660.2L1744.1 1659.6L1749 1658.8L1753.9 1657.8L1758.7 1656.7L1763.6 1655.3L1768.5 1653.7L1773.4 1651.8L1778.2 1649.7L1783.1 1647.2L1788 1644.3L1792.9 1641L1797.7 1637.2L1802.6 1633L1807.5 1628.3L1812.4 1623L1817.2 1617.1L1822.1 1610.7L1827 1603.6L1831.8 1595.9L1836.7 1587.6L1841.6 1578.7L1846.5 1569.1L1851.3 1558.9L1856.2 1548.2L1861.1 1537L1866 1525.3L1870.8 1513.1L1875.7 1500.6L1880.6 1487.7L1885.5 1474.6L1890.3 1461.4L1895.2 1448.1L1900.1 1434.8L1905 1421.6L1909.8 1408.5L1914.7 1395.7L1919.6 1383.1L1924.5 1371L1929.3 1359.3L1934.2 1348L1939.1 1337.3L1944 1327.2L1948.8 1317.7L1953.7 1308.8L1958.6 1300.5L1963.4 1292.8L1968.3 1285.8L1973.2 1279.3L1978.1 1273.5L1982.9 1268.2L1987.8 1263.5L1992.7 1259.3L1997.6 1255.6L2002.4 1252.3L2007.3 1249.4L2012.2 1246.9L2017.1 1244.7L2021.9 1242.9L2026.8 1241.3L2031.7 1239.9L2036.6 1238.8L2041.4 1237.8L2046.3 1237L2051.2 1236.4L2056.1 1235.8L2060.9 1235.4L2065.8 1235L2070.7 1234.7L2075.6 1234.5L2080.4 1234.3L2085.3 1234.2L2090.2 1234L2095.1 1233.9L2099.9 1233.9L2104.8 1233.8" stroke="#bababa" stroke-width="2" fill="none"/>
<path d="M1651 1663H1671M2104.8 1244.5H2125M1651 1654.3H1671M2104.8 1229.3H2125M1651 1663H1671M2104.8 1230.6H2125M1651 1663H1671M2104.8 1233.6H2125" stroke="#c8c8c8" stroke-width="2" stroke-dasharray="2 3.6" fill="none"/>
<path d="M1651 1662.8H1671M2104.8 1231.1H2125" stroke="#000" stroke-width="2.8" stroke-dasharray="2.8 2.9" fill="none"/>
<path d="M1671 1662.5L1674.1 1662.5L1677.2 1662.4L1680.4 1662.4L1683.5 1662.3L1686.6 1662.2L1689.7 1662.1L1692.8 1662L1696 1661.8L1699.1 1661.7L1702.2 1661.5L1705.3 1661.3L1708.5 1661.1L1711.6 1660.9L1714.7 1660.6L1717.8 1660.3L1720.9 1660L1724.1 1659.6L1727.2 1659.2L1730.3 1658.7L1733.4 1658.2L1736.5 1657.6L1739.7 1656.9L1742.8 1656.2L1745.9 1655.4L1749 1654.6L1752.1 1653.6L1755.3 1652.6L1758.4 1651.4L1761.5 1650.2L1764.6 1648.9L1767.7 1647.4L1770.9 1645.8L1774 1644.1L1777.1 1642.2L1780.2 1640.3L1783.4 1638.1L1786.5 1635.8L1789.6 1633.3L1792.7 1630.7L1795.8 1627.9L1799 1624.9L1802.1 1621.7L1805.2 1618.3L1808.3 1614.8L1811.4 1611L1814.6 1607L1817.7 1602.8L1820.8 1598.4L1823.9 1593.8L1827 1589L1830.2 1584L1833.3 1578.8L1836.4 1573.3L1839.5 1567.7L1842.6 1561.9L1845.8 1555.8L1848.9 1549.6L1852 1543.2L1855.1 1536.7L1858.3 1529.9L1861.4 1523L1864.5 1516L1867.6 1508.9L1870.7 1501.6L1873.9 1494.2L1877 1486.7L1880.1 1479.2L1883.2 1471.6L1886.3 1463.9L1889.5 1456.2L1892.6 1448.5L1895.7 1440.8L1898.8 1433.1L1901.9 1425.4L1905.1 1417.8L1908.2 1410.2L1911.3 1402.7L1914.4 1395.3L1917.5 1387.9L1920.7 1380.7L1923.8 1373.7L1926.9 1366.7L1930 1359.9L1933.2 1353.3L1936.3 1346.8L1939.4 1340.5L1942.5 1334.4L1945.6 1328.5L1948.8 1322.8L1951.9 1317.3L1955 1312L1958.1 1306.9L1961.2 1302L1964.4 1297.3L1967.5 1292.8L1970.6 1288.6L1973.7 1284.5L1976.8 1280.7L1980 1277L1983.1 1273.6L1986.2 1270.3L1989.3 1267.2L1992.4 1264.4L1995.6 1261.7L1998.7 1259.1L2001.8 1256.8L2004.9 1254.6L2008.1 1252.5L2011.2 1250.6L2014.3 1248.8L2017.4 1247.2L2020.5 1245.7L2023.7 1244.3L2026.8 1243L2029.9 1241.8L2033 1240.8L2036.1 1239.8L2039.3 1238.9L2042.4 1238.1L2045.5 1237.3L2048.6 1236.7L2051.7 1236.1L2054.9 1235.5L2058 1235L2061.1 1234.6L2064.2 1234.2L2067.3 1233.8L2070.5 1233.5L2073.6 1233.2L2076.7 1232.9L2079.8 1232.7L2083 1232.5L2086.1 1232.3L2089.2 1232.2L2092.3 1232.1L2095.4 1231.9L2098.6 1231.8L2101.7 1231.7L2104.8 1231.7" stroke="#000" stroke-width="2.9" fill="none"/>
<path d="M1859 1499.7V1561" stroke="#000" stroke-width="3" fill="none"/>
<circle cx="1671" cy="1663.3" r="7.7" fill="#3a7f8d" stroke="#000" stroke-width="3.1"/>
<circle cx="1779.5" cy="1641.5" r="7.7" fill="#3a7f8d" stroke="#000" stroke-width="3.1"/>
<circle cx="1859" cy="1530.5" r="7.7" fill="#3a7f8d" stroke="#000" stroke-width="3.1"/>
<circle cx="1916.8" cy="1394.7" r="7.7" fill="#3a7f8d" stroke="#000" stroke-width="3.1"/>
<circle cx="1996.3" cy="1259.8" r="7.7" fill="#3a7f8d" stroke="#000" stroke-width="3.1"/>
<circle cx="2104.8" cy="1233.4" r="7.7" fill="#3a7f8d" stroke="#000" stroke-width="3.1"/>
</svg></body></html>
